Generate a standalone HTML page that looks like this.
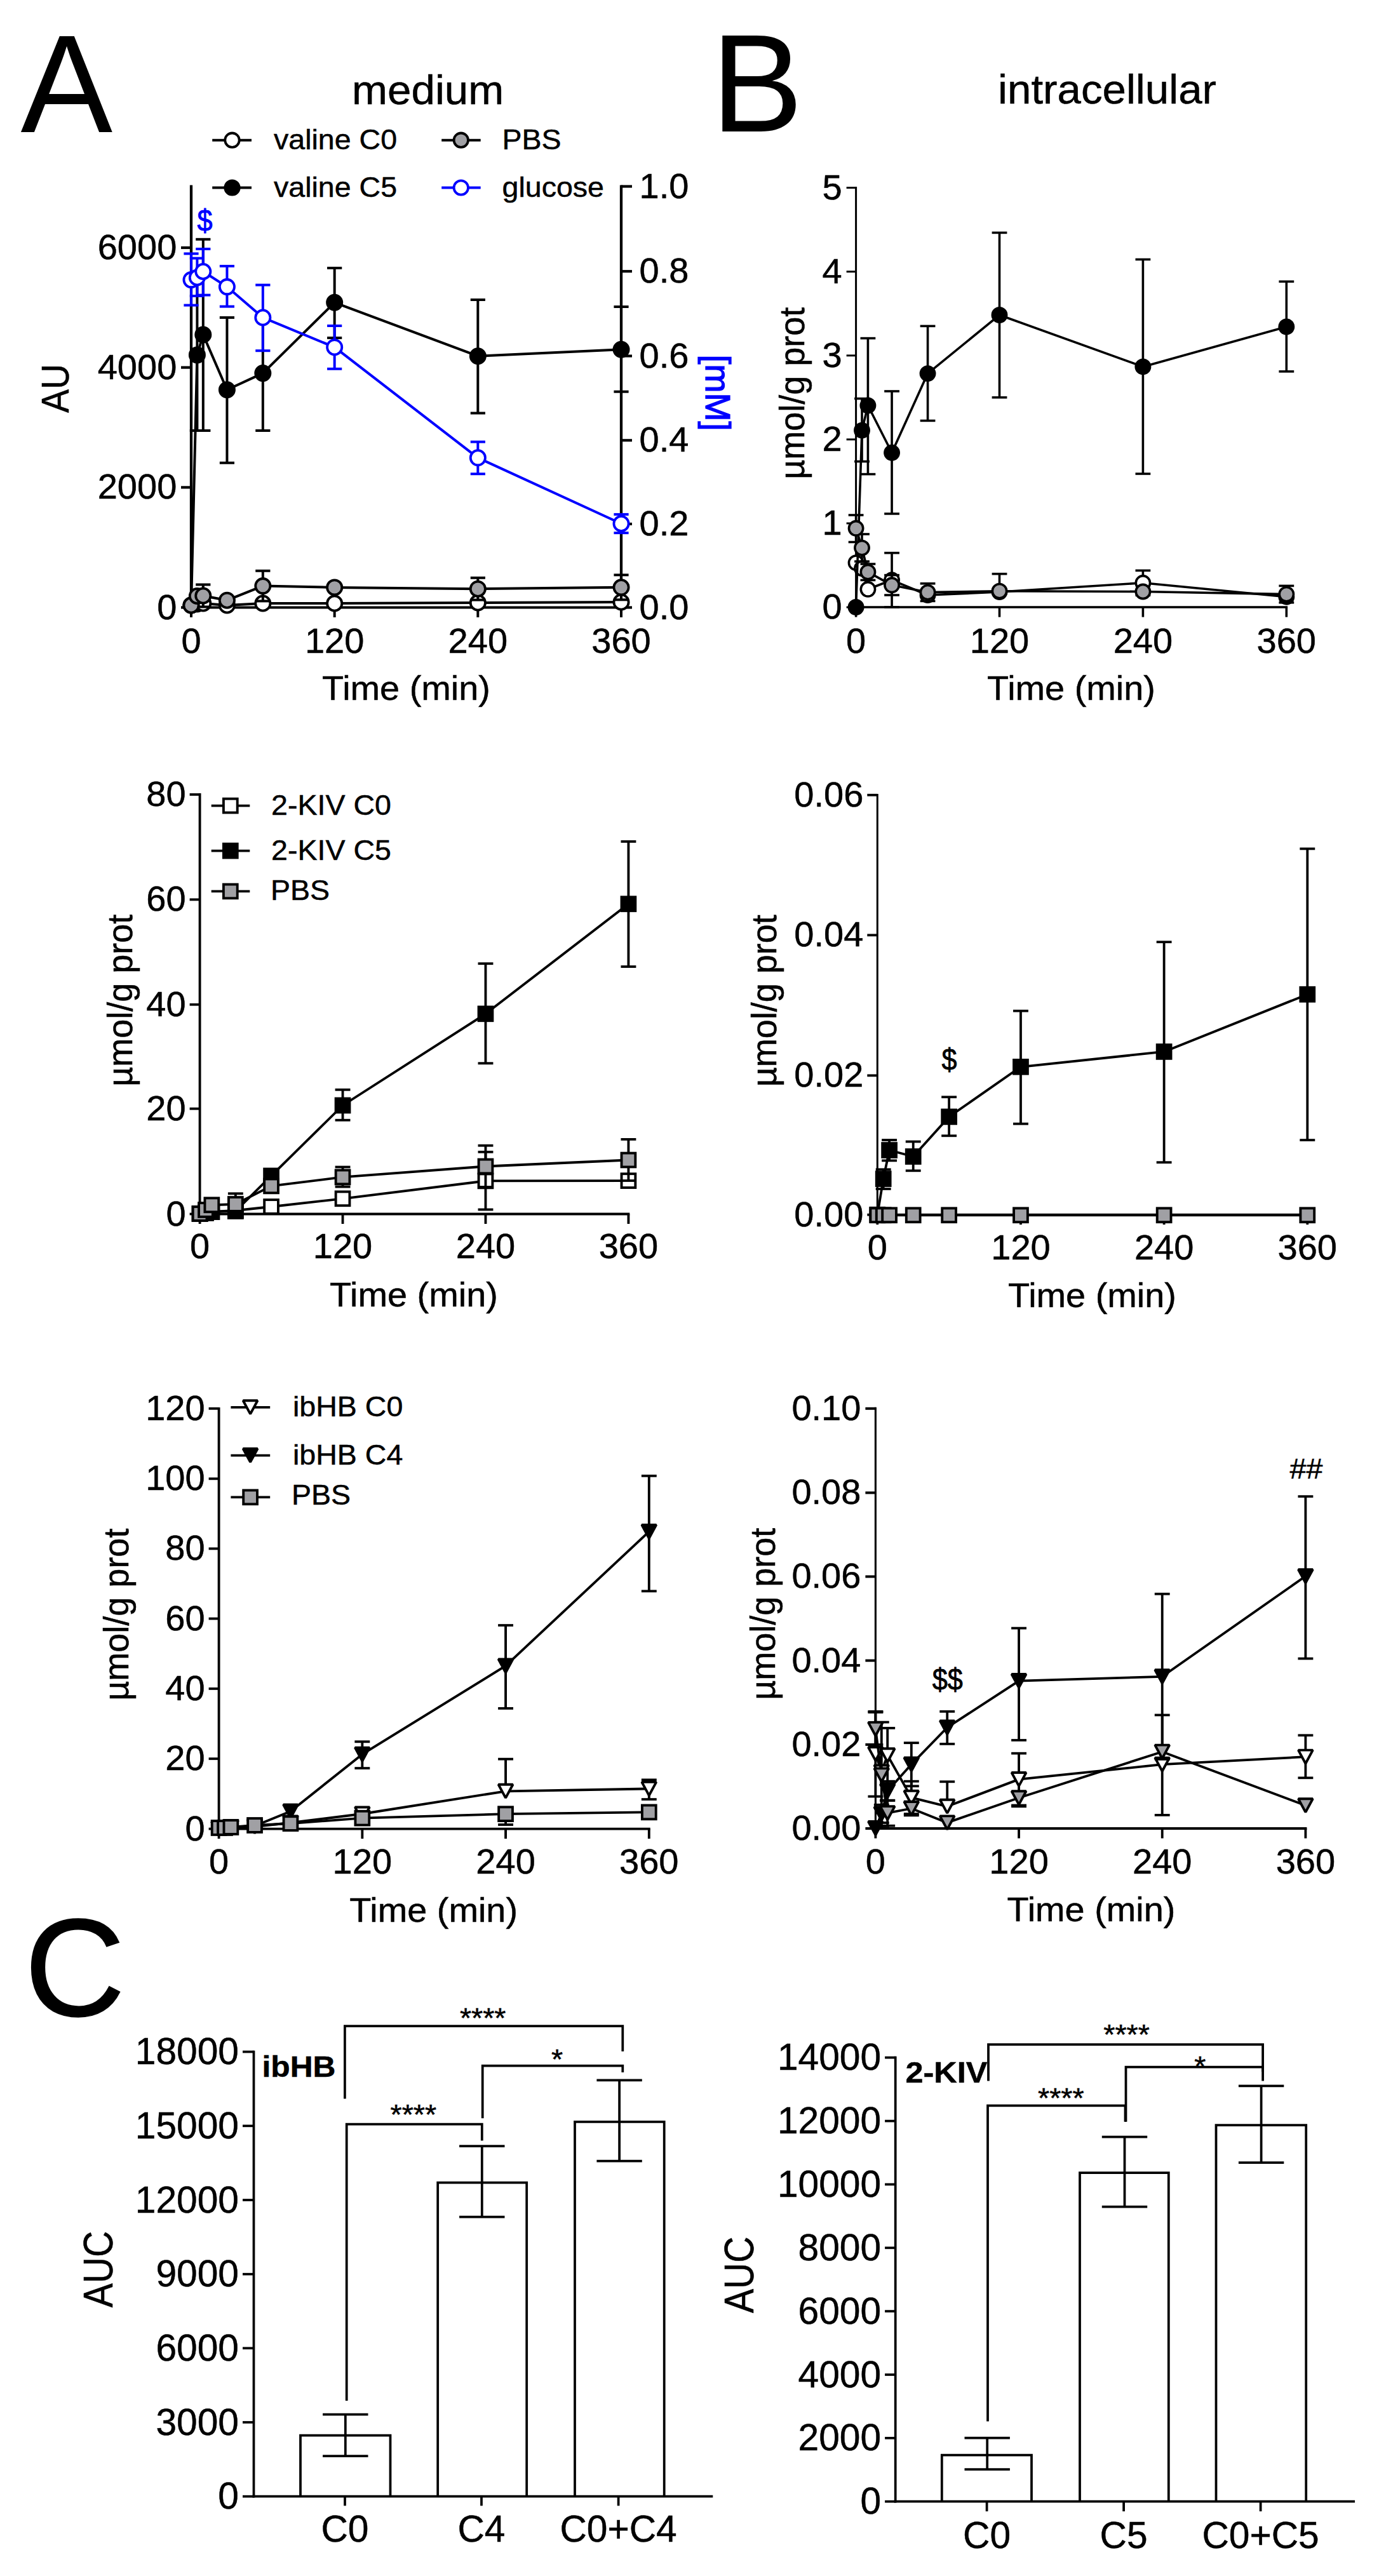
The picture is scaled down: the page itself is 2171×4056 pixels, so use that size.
<!DOCTYPE html>
<html lang="en"><head><meta charset="utf-8"><title>Figure</title>
<style>
html,body{margin:0;padding:0;background:#fff}
svg{display:block}
text{font-family:"Liberation Sans", sans-serif}
</style></head><body>
<svg width="2171" height="4056" viewBox="0 0 2171 4056">
<rect width="2171" height="4056" fill="#fff"/>
<text transform="translate(32.4 207.7) scale(0.988 1)" font-size="219.5" text-anchor="start" fill="#000" stroke="#000" stroke-width="0">A</text>
<text transform="translate(1119.5 207) scale(0.988 1)" font-size="219.5" text-anchor="start" fill="#000" stroke="#000" stroke-width="0">B</text>
<text transform="translate(38.5 3173.7) scale(1 1)" font-size="219.5" text-anchor="start" fill="#000" stroke="#000" stroke-width="1.5">C</text>
<text transform="translate(673.7 163.8) scale(1.035 1)" font-size="65" text-anchor="middle" fill="#000" stroke="#000" stroke-width="0.5">medium</text>
<text transform="translate(1743 163.4) scale(1.035 1)" font-size="65" text-anchor="middle" fill="#000" stroke="#000" stroke-width="0.5">intracellular</text>
<path d="M301 291.4L301 958.6" stroke="#000" stroke-width="4.3" fill="none"/>
<path d="M285 390L301 390" stroke="#000" stroke-width="4.2" fill="none"/>
<text transform="translate(278.3 408) scale(1 1)" font-size="56" text-anchor="end" fill="#000" stroke="#000" stroke-width="0.5">6000</text>
<path d="M285 578.6L301 578.6" stroke="#000" stroke-width="4.2" fill="none"/>
<text transform="translate(278.3 596.6) scale(1 1)" font-size="56" text-anchor="end" fill="#000" stroke="#000" stroke-width="0.5">4000</text>
<path d="M285 767.4L301 767.4" stroke="#000" stroke-width="4.2" fill="none"/>
<text transform="translate(278.3 785.4) scale(1 1)" font-size="56" text-anchor="end" fill="#000" stroke="#000" stroke-width="0.5">2000</text>
<path d="M285 956.5L301 956.5" stroke="#000" stroke-width="4.2" fill="none"/>
<text transform="translate(278.3 974.5) scale(1 1)" font-size="56" text-anchor="end" fill="#000" stroke="#000" stroke-width="0.5">0</text>
<path d="M978 291.4L978 958.6" stroke="#000" stroke-width="4.3" fill="none"/>
<path d="M978 293.5L995 293.5" stroke="#000" stroke-width="4.2" fill="none"/>
<text transform="translate(1006.5 311.5) scale(1 1)" font-size="56" text-anchor="start" fill="#000" stroke="#000" stroke-width="0.5">1.0</text>
<path d="M978 427.2L995 427.2" stroke="#000" stroke-width="4.2" fill="none"/>
<text transform="translate(1006.5 445.2) scale(1 1)" font-size="56" text-anchor="start" fill="#000" stroke="#000" stroke-width="0.5">0.8</text>
<path d="M978 560.5L995 560.5" stroke="#000" stroke-width="4.2" fill="none"/>
<text transform="translate(1006.5 578.5) scale(1 1)" font-size="56" text-anchor="start" fill="#000" stroke="#000" stroke-width="0.5">0.6</text>
<path d="M978 693.3L995 693.3" stroke="#000" stroke-width="4.2" fill="none"/>
<text transform="translate(1006.5 711.3) scale(1 1)" font-size="56" text-anchor="start" fill="#000" stroke="#000" stroke-width="0.5">0.4</text>
<path d="M978 825L995 825" stroke="#000" stroke-width="4.2" fill="none"/>
<text transform="translate(1006.5 843) scale(1 1)" font-size="56" text-anchor="start" fill="#000" stroke="#000" stroke-width="0.5">0.2</text>
<path d="M978 956.5L995 956.5" stroke="#000" stroke-width="4.2" fill="none"/>
<text transform="translate(1006.5 974.5) scale(1 1)" font-size="56" text-anchor="start" fill="#000" stroke="#000" stroke-width="0.5">0.0</text>
<path d="M298.85 956.5L980 956.5" stroke="#000" stroke-width="4.2" fill="none"/>
<path d="M301 956.5L301 972" stroke="#000" stroke-width="4" fill="none"/>
<text transform="translate(301 1028.4) scale(1 1)" font-size="56" text-anchor="middle" fill="#000" stroke="#000" stroke-width="0.5">0</text>
<path d="M526.67 956.5L526.67 972" stroke="#000" stroke-width="4" fill="none"/>
<text transform="translate(526.67 1028.4) scale(1 1)" font-size="56" text-anchor="middle" fill="#000" stroke="#000" stroke-width="0.5">120</text>
<path d="M752.34 956.5L752.34 972" stroke="#000" stroke-width="4" fill="none"/>
<text transform="translate(752.34 1028.4) scale(1 1)" font-size="56" text-anchor="middle" fill="#000" stroke="#000" stroke-width="0.5">240</text>
<path d="M978.02 956.5L978.02 972" stroke="#000" stroke-width="4" fill="none"/>
<text transform="translate(978.02 1028.4) scale(1 1)" font-size="56" text-anchor="middle" fill="#000" stroke="#000" stroke-width="0.5">360</text>
<text transform="translate(639.5 1101.6) scale(1.035 1)" font-size="54" text-anchor="middle" fill="#000" stroke="#000" stroke-width="0.5">Time (min)</text>
<text transform="translate(107.9 611.5) scale(1.088 1) rotate(-90)" font-size="55.4" text-anchor="middle" fill="#000" stroke="#000" stroke-width="0.5">AU</text>
<text transform="translate(1111 618.5) scale(1.035 1) rotate(90)" font-size="54" text-anchor="middle" fill="#0000ff" stroke="#0000ff" stroke-width="1.3">[mM]</text>
<g>
<path d="M413.84 946L413.84 954" stroke="#000" stroke-width="4" fill="none"/>
<path d="M402.24 946L425.44 946" stroke="#000" stroke-width="4" fill="none"/>
<path d="M402.24 954L425.44 954" stroke="#000" stroke-width="4" fill="none"/>
<path d="M752.34 946L752.34 953" stroke="#000" stroke-width="4" fill="none"/>
<path d="M740.74 946L763.94 946" stroke="#000" stroke-width="4" fill="none"/>
<path d="M740.74 953L763.94 953" stroke="#000" stroke-width="4" fill="none"/>
<path d="M978.02 945L978.02 952" stroke="#000" stroke-width="4" fill="none"/>
<path d="M966.42 945L989.62 945" stroke="#000" stroke-width="4" fill="none"/>
<path d="M966.42 952L989.62 952" stroke="#000" stroke-width="4" fill="none"/>
<path d="M301 953L310.4 951L319.81 950L357.42 953L413.84 950L526.67 950L752.34 949L978.02 948" stroke="#000" stroke-width="4" fill="none" stroke-linejoin="round"/>
<circle cx="301" cy="953" r="11.6" fill="#fff" stroke="#000" stroke-width="3.8"/>
<circle cx="310.4" cy="951" r="11.6" fill="#fff" stroke="#000" stroke-width="3.8"/>
<circle cx="319.81" cy="950" r="11.6" fill="#fff" stroke="#000" stroke-width="3.8"/>
<circle cx="357.42" cy="953" r="11.6" fill="#fff" stroke="#000" stroke-width="3.8"/>
<circle cx="413.84" cy="950" r="11.6" fill="#fff" stroke="#000" stroke-width="3.8"/>
<circle cx="526.67" cy="950" r="11.6" fill="#fff" stroke="#000" stroke-width="3.8"/>
<circle cx="752.34" cy="949" r="11.6" fill="#fff" stroke="#000" stroke-width="3.8"/>
<circle cx="978.02" cy="948" r="11.6" fill="#fff" stroke="#000" stroke-width="3.8"/>
</g>
<g>
<path d="M310.4 440L310.4 678" stroke="#000" stroke-width="4" fill="none"/>
<path d="M298.8 440L322 440" stroke="#000" stroke-width="4" fill="none"/>
<path d="M298.8 678L322 678" stroke="#000" stroke-width="4" fill="none"/>
<path d="M319.81 376.8L319.81 678" stroke="#000" stroke-width="4" fill="none"/>
<path d="M308.21 376.8L331.41 376.8" stroke="#000" stroke-width="4" fill="none"/>
<path d="M308.21 678L331.41 678" stroke="#000" stroke-width="4" fill="none"/>
<path d="M357.42 500L357.42 728.8" stroke="#000" stroke-width="4" fill="none"/>
<path d="M345.82 500L369.02 500" stroke="#000" stroke-width="4" fill="none"/>
<path d="M345.82 728.8L369.02 728.8" stroke="#000" stroke-width="4" fill="none"/>
<path d="M413.84 497L413.84 678" stroke="#000" stroke-width="4" fill="none"/>
<path d="M402.24 497L425.44 497" stroke="#000" stroke-width="4" fill="none"/>
<path d="M402.24 678L425.44 678" stroke="#000" stroke-width="4" fill="none"/>
<path d="M526.67 422L526.67 532" stroke="#000" stroke-width="4" fill="none"/>
<path d="M515.07 422L538.27 422" stroke="#000" stroke-width="4" fill="none"/>
<path d="M515.07 532L538.27 532" stroke="#000" stroke-width="4" fill="none"/>
<path d="M752.34 472L752.34 650.5" stroke="#000" stroke-width="4" fill="none"/>
<path d="M740.74 472L763.94 472" stroke="#000" stroke-width="4" fill="none"/>
<path d="M740.74 650.5L763.94 650.5" stroke="#000" stroke-width="4" fill="none"/>
<path d="M978.02 483L978.02 616.7" stroke="#000" stroke-width="4" fill="none"/>
<path d="M966.42 483L989.62 483" stroke="#000" stroke-width="4" fill="none"/>
<path d="M966.42 616.7L989.62 616.7" stroke="#000" stroke-width="4" fill="none"/>
<path d="M301 953L310.4 558.9L319.81 527L357.42 613.7L413.84 587.6L526.67 476.3L752.34 560.7L978.02 550.3" stroke="#000" stroke-width="4" fill="none" stroke-linejoin="round"/>
<circle cx="301" cy="953" r="11.6" fill="#000" stroke="#000" stroke-width="3.8"/>
<circle cx="310.4" cy="558.9" r="11.6" fill="#000" stroke="#000" stroke-width="3.8"/>
<circle cx="319.81" cy="527" r="11.6" fill="#000" stroke="#000" stroke-width="3.8"/>
<circle cx="357.42" cy="613.7" r="11.6" fill="#000" stroke="#000" stroke-width="3.8"/>
<circle cx="413.84" cy="587.6" r="11.6" fill="#000" stroke="#000" stroke-width="3.8"/>
<circle cx="526.67" cy="476.3" r="11.6" fill="#000" stroke="#000" stroke-width="3.8"/>
<circle cx="752.34" cy="560.7" r="11.6" fill="#000" stroke="#000" stroke-width="3.8"/>
<circle cx="978.02" cy="550.3" r="11.6" fill="#000" stroke="#000" stroke-width="3.8"/>
</g>
<g>
<path d="M319.81 920.5L319.81 955.5" stroke="#000" stroke-width="4" fill="none"/>
<path d="M308.21 920.5L331.41 920.5" stroke="#000" stroke-width="4" fill="none"/>
<path d="M308.21 955.5L331.41 955.5" stroke="#000" stroke-width="4" fill="none"/>
<path d="M413.84 898.8L413.84 946.4" stroke="#000" stroke-width="4" fill="none"/>
<path d="M402.24 898.8L425.44 898.8" stroke="#000" stroke-width="4" fill="none"/>
<path d="M402.24 946.4L425.44 946.4" stroke="#000" stroke-width="4" fill="none"/>
<path d="M752.34 909.8L752.34 944.6" stroke="#000" stroke-width="4" fill="none"/>
<path d="M740.74 909.8L763.94 909.8" stroke="#000" stroke-width="4" fill="none"/>
<path d="M740.74 944.6L763.94 944.6" stroke="#000" stroke-width="4" fill="none"/>
<path d="M978.02 905.3L978.02 944.3" stroke="#000" stroke-width="4" fill="none"/>
<path d="M966.42 905.3L989.62 905.3" stroke="#000" stroke-width="4" fill="none"/>
<path d="M966.42 944.3L989.62 944.3" stroke="#000" stroke-width="4" fill="none"/>
<path d="M301 953L310.4 938.5L319.81 938L357.42 945.2L413.84 922.6L526.67 924.9L752.34 927.2L978.02 924.8" stroke="#000" stroke-width="4" fill="none" stroke-linejoin="round"/>
<circle cx="301" cy="953" r="11.6" fill="#a0a0a4" stroke="#000" stroke-width="3.8"/>
<circle cx="310.4" cy="938.5" r="11.6" fill="#a0a0a4" stroke="#000" stroke-width="3.8"/>
<circle cx="319.81" cy="938" r="11.6" fill="#a0a0a4" stroke="#000" stroke-width="3.8"/>
<circle cx="357.42" cy="945.2" r="11.6" fill="#a0a0a4" stroke="#000" stroke-width="3.8"/>
<circle cx="413.84" cy="922.6" r="11.6" fill="#a0a0a4" stroke="#000" stroke-width="3.8"/>
<circle cx="526.67" cy="924.9" r="11.6" fill="#a0a0a4" stroke="#000" stroke-width="3.8"/>
<circle cx="752.34" cy="927.2" r="11.6" fill="#a0a0a4" stroke="#000" stroke-width="3.8"/>
<circle cx="978.02" cy="924.8" r="11.6" fill="#a0a0a4" stroke="#000" stroke-width="3.8"/>
</g>
<g>
<path d="M301 399.4L301 480.6" stroke="#0000ff" stroke-width="4" fill="none"/>
<path d="M289.4 399.4L312.6 399.4" stroke="#0000ff" stroke-width="4" fill="none"/>
<path d="M289.4 480.6L312.6 480.6" stroke="#0000ff" stroke-width="4" fill="none"/>
<path d="M310.4 406.6L310.4 466" stroke="#0000ff" stroke-width="4" fill="none"/>
<path d="M298.8 406.6L322 406.6" stroke="#0000ff" stroke-width="4" fill="none"/>
<path d="M298.8 466L322 466" stroke="#0000ff" stroke-width="4" fill="none"/>
<path d="M319.81 392L319.81 464.6" stroke="#0000ff" stroke-width="4" fill="none"/>
<path d="M308.21 392L331.41 392" stroke="#0000ff" stroke-width="4" fill="none"/>
<path d="M308.21 464.6L331.41 464.6" stroke="#0000ff" stroke-width="4" fill="none"/>
<path d="M357.42 419L357.42 482.6" stroke="#0000ff" stroke-width="4" fill="none"/>
<path d="M345.82 419L369.02 419" stroke="#0000ff" stroke-width="4" fill="none"/>
<path d="M345.82 482.6L369.02 482.6" stroke="#0000ff" stroke-width="4" fill="none"/>
<path d="M413.84 448.7L413.84 552.2" stroke="#0000ff" stroke-width="4" fill="none"/>
<path d="M402.24 448.7L425.44 448.7" stroke="#0000ff" stroke-width="4" fill="none"/>
<path d="M402.24 552.2L425.44 552.2" stroke="#0000ff" stroke-width="4" fill="none"/>
<path d="M526.67 513L526.67 580.8" stroke="#0000ff" stroke-width="4" fill="none"/>
<path d="M515.07 513L538.27 513" stroke="#0000ff" stroke-width="4" fill="none"/>
<path d="M515.07 580.8L538.27 580.8" stroke="#0000ff" stroke-width="4" fill="none"/>
<path d="M752.34 695.7L752.34 746.2" stroke="#0000ff" stroke-width="4" fill="none"/>
<path d="M740.74 695.7L763.94 695.7" stroke="#0000ff" stroke-width="4" fill="none"/>
<path d="M740.74 746.2L763.94 746.2" stroke="#0000ff" stroke-width="4" fill="none"/>
<path d="M978.02 809.9L978.02 839.1" stroke="#0000ff" stroke-width="4" fill="none"/>
<path d="M966.42 809.9L989.62 809.9" stroke="#0000ff" stroke-width="4" fill="none"/>
<path d="M966.42 839.1L989.62 839.1" stroke="#0000ff" stroke-width="4" fill="none"/>
<path d="M301 440.6L310.4 437L319.81 427.5L357.42 451.6L413.84 500L526.67 546.7L752.34 720.8L978.02 824.5" stroke="#0000ff" stroke-width="4" fill="none" stroke-linejoin="round"/>
<circle cx="301" cy="440.6" r="11.6" fill="#fff" stroke="#0000ff" stroke-width="3.8"/>
<circle cx="310.4" cy="437" r="11.6" fill="#fff" stroke="#0000ff" stroke-width="3.8"/>
<circle cx="319.81" cy="427.5" r="11.6" fill="#fff" stroke="#0000ff" stroke-width="3.8"/>
<circle cx="357.42" cy="451.6" r="11.6" fill="#fff" stroke="#0000ff" stroke-width="3.8"/>
<circle cx="413.84" cy="500" r="11.6" fill="#fff" stroke="#0000ff" stroke-width="3.8"/>
<circle cx="526.67" cy="546.7" r="11.6" fill="#fff" stroke="#0000ff" stroke-width="3.8"/>
<circle cx="752.34" cy="720.8" r="11.6" fill="#fff" stroke="#0000ff" stroke-width="3.8"/>
<circle cx="978.02" cy="824.5" r="11.6" fill="#fff" stroke="#0000ff" stroke-width="3.8"/>
</g>
<text transform="translate(322.5 363.9) scale(0.89 1)" font-size="48.5" text-anchor="middle" fill="#0000ff" stroke="#0000ff" stroke-width="1">$</text>
<path d="M334.2 220.7L396 220.7" stroke="#000" stroke-width="4" fill="none"/>
<circle cx="365.5" cy="220.7" r="11.2" fill="#fff" stroke="#000" stroke-width="3.8"/>
<text transform="translate(431 235.3) scale(1.035 1)" font-size="45" text-anchor="start" fill="#000" stroke="#000" stroke-width="0.5">valine C0</text>
<path d="M334.2 295.5L396 295.5" stroke="#000" stroke-width="4" fill="none"/>
<circle cx="365.5" cy="295.5" r="11.2" fill="#000" stroke="#000" stroke-width="3.8"/>
<text transform="translate(431 310) scale(1.035 1)" font-size="45" text-anchor="start" fill="#000" stroke="#000" stroke-width="0.5">valine C5</text>
<path d="M695.2 220.7L756.7 220.7" stroke="#000" stroke-width="4" fill="none"/>
<circle cx="725.8" cy="220.7" r="11.2" fill="#a0a0a4" stroke="#000" stroke-width="3.8"/>
<text transform="translate(790.5 235.3) scale(1.035 1)" font-size="45" text-anchor="start" fill="#000" stroke="#000" stroke-width="0.5">PBS</text>
<path d="M695.2 295.5L756.7 295.5" stroke="#0000ff" stroke-width="4" fill="none"/>
<circle cx="725.8" cy="295.5" r="11.2" fill="#fff" stroke="#0000ff" stroke-width="3.8"/>
<text transform="translate(790.5 310) scale(1.035 1)" font-size="45" text-anchor="start" fill="#000" stroke="#000" stroke-width="0.5">glucose</text>
<path d="M1347.6 294.1L1347.6 957.85" stroke="#000" stroke-width="3" fill="none"/>
<path d="M1332.6 295.6L1347.6 295.6" stroke="#000" stroke-width="3" fill="none"/>
<text transform="translate(1325.6 313.6) scale(1 1)" font-size="56" text-anchor="end" fill="#000" stroke="#000" stroke-width="0.5">5</text>
<path d="M1332.6 427.7L1347.6 427.7" stroke="#000" stroke-width="3" fill="none"/>
<text transform="translate(1325.6 445.7) scale(1 1)" font-size="56" text-anchor="end" fill="#000" stroke="#000" stroke-width="0.5">4</text>
<path d="M1332.6 559.8L1347.6 559.8" stroke="#000" stroke-width="3" fill="none"/>
<text transform="translate(1325.6 577.8) scale(1 1)" font-size="56" text-anchor="end" fill="#000" stroke="#000" stroke-width="0.5">3</text>
<path d="M1332.6 691.9L1347.6 691.9" stroke="#000" stroke-width="3" fill="none"/>
<text transform="translate(1325.6 709.9) scale(1 1)" font-size="56" text-anchor="end" fill="#000" stroke="#000" stroke-width="0.5">2</text>
<path d="M1332.6 824L1347.6 824" stroke="#000" stroke-width="3" fill="none"/>
<text transform="translate(1325.6 842) scale(1 1)" font-size="56" text-anchor="end" fill="#000" stroke="#000" stroke-width="0.5">1</text>
<path d="M1332.6 956.1L1347.6 956.1" stroke="#000" stroke-width="3" fill="none"/>
<text transform="translate(1325.6 974.1) scale(1 1)" font-size="56" text-anchor="end" fill="#000" stroke="#000" stroke-width="0.5">0</text>
<path d="M1346.1 956.1L2027.1 956.1" stroke="#000" stroke-width="3.5" fill="none"/>
<path d="M1347.6 956.1L1347.6 971.6" stroke="#000" stroke-width="3.6" fill="none"/>
<text transform="translate(1347.6 1028.4) scale(1 1)" font-size="56" text-anchor="middle" fill="#000" stroke="#000" stroke-width="0.5">0</text>
<path d="M1573.5 956.1L1573.5 971.6" stroke="#000" stroke-width="3.6" fill="none"/>
<text transform="translate(1573.5 1028.4) scale(1 1)" font-size="56" text-anchor="middle" fill="#000" stroke="#000" stroke-width="0.5">120</text>
<path d="M1799.4 956.1L1799.4 971.6" stroke="#000" stroke-width="3.6" fill="none"/>
<text transform="translate(1799.4 1028.4) scale(1 1)" font-size="56" text-anchor="middle" fill="#000" stroke="#000" stroke-width="0.5">240</text>
<path d="M2025.3 956.1L2025.3 971.6" stroke="#000" stroke-width="3.6" fill="none"/>
<text transform="translate(2025.3 1028.4) scale(1 1)" font-size="56" text-anchor="middle" fill="#000" stroke="#000" stroke-width="0.5">360</text>
<text transform="translate(1686.5 1101.6) scale(1.035 1)" font-size="54" text-anchor="middle" fill="#000" stroke="#000" stroke-width="0.5">Time (min)</text>
<text transform="translate(1265.7 619.3) scale(1.035 1) rotate(-90)" font-size="54" text-anchor="middle" fill="#000" stroke="#000" stroke-width="0.5">µmol/g prot</text>
<g>
<path d="M1404.07 870.6L1404.07 956" stroke="#000" stroke-width="3.6" fill="none"/>
<path d="M1392.17 870.6L1415.97 870.6" stroke="#000" stroke-width="3.6" fill="none"/>
<path d="M1392.17 956L1415.97 956" stroke="#000" stroke-width="3.6" fill="none"/>
<path d="M1799.4 898.3L1799.4 937.3" stroke="#000" stroke-width="3.6" fill="none"/>
<path d="M1787.5 898.3L1811.3 898.3" stroke="#000" stroke-width="3.6" fill="none"/>
<path d="M1787.5 937.3L1811.3 937.3" stroke="#000" stroke-width="3.6" fill="none"/>
<path d="M1347.6 886.2L1357.01 895L1366.42 927.8L1404.07 913.3L1460.55 937L1573.5 932L1799.4 917.8L2025.3 939.7" stroke="#000" stroke-width="3.6" fill="none" stroke-linejoin="round"/>
<circle cx="1347.6" cy="886.2" r="11.15" fill="#fff" stroke="#000" stroke-width="3.6"/>
<circle cx="1357.01" cy="895" r="11.15" fill="#fff" stroke="#000" stroke-width="3.6"/>
<circle cx="1366.42" cy="927.8" r="11.15" fill="#fff" stroke="#000" stroke-width="3.6"/>
<circle cx="1404.07" cy="913.3" r="11.15" fill="#fff" stroke="#000" stroke-width="3.6"/>
<circle cx="1460.55" cy="937" r="11.15" fill="#fff" stroke="#000" stroke-width="3.6"/>
<circle cx="1573.5" cy="932" r="11.15" fill="#fff" stroke="#000" stroke-width="3.6"/>
<circle cx="1799.4" cy="917.8" r="11.15" fill="#fff" stroke="#000" stroke-width="3.6"/>
<circle cx="2025.3" cy="939.7" r="11.15" fill="#fff" stroke="#000" stroke-width="3.6"/>
</g>
<g>
<path d="M1357.01 627.6L1357.01 726.6" stroke="#000" stroke-width="3.6" fill="none"/>
<path d="M1345.11 627.6L1368.91 627.6" stroke="#000" stroke-width="3.6" fill="none"/>
<path d="M1345.11 726.6L1368.91 726.6" stroke="#000" stroke-width="3.6" fill="none"/>
<path d="M1366.42 532.6L1366.42 746.6" stroke="#000" stroke-width="3.6" fill="none"/>
<path d="M1354.52 532.6L1378.33 532.6" stroke="#000" stroke-width="3.6" fill="none"/>
<path d="M1354.52 746.6L1378.33 746.6" stroke="#000" stroke-width="3.6" fill="none"/>
<path d="M1404.07 616L1404.07 808.9" stroke="#000" stroke-width="3.6" fill="none"/>
<path d="M1392.17 616L1415.97 616" stroke="#000" stroke-width="3.6" fill="none"/>
<path d="M1392.17 808.9L1415.97 808.9" stroke="#000" stroke-width="3.6" fill="none"/>
<path d="M1460.55 513.4L1460.55 662.4" stroke="#000" stroke-width="3.6" fill="none"/>
<path d="M1448.65 513.4L1472.45 513.4" stroke="#000" stroke-width="3.6" fill="none"/>
<path d="M1448.65 662.4L1472.45 662.4" stroke="#000" stroke-width="3.6" fill="none"/>
<path d="M1573.5 366.4L1573.5 625.8" stroke="#000" stroke-width="3.6" fill="none"/>
<path d="M1561.6 366.4L1585.4 366.4" stroke="#000" stroke-width="3.6" fill="none"/>
<path d="M1561.6 625.8L1585.4 625.8" stroke="#000" stroke-width="3.6" fill="none"/>
<path d="M1799.4 408.5L1799.4 746" stroke="#000" stroke-width="3.6" fill="none"/>
<path d="M1787.5 408.5L1811.3 408.5" stroke="#000" stroke-width="3.6" fill="none"/>
<path d="M1787.5 746L1811.3 746" stroke="#000" stroke-width="3.6" fill="none"/>
<path d="M2025.3 443.3L2025.3 584.9" stroke="#000" stroke-width="3.6" fill="none"/>
<path d="M2013.4 443.3L2037.2 443.3" stroke="#000" stroke-width="3.6" fill="none"/>
<path d="M2013.4 584.9L2037.2 584.9" stroke="#000" stroke-width="3.6" fill="none"/>
<path d="M1347.6 956L1357.01 677.7L1366.42 638.5L1404.07 712.8L1460.55 588.1L1573.5 496L1799.4 577.4L2025.3 514.5" stroke="#000" stroke-width="3.6" fill="none" stroke-linejoin="round"/>
<circle cx="1347.6" cy="956" r="11.15" fill="#000" stroke="#000" stroke-width="3.6"/>
<circle cx="1357.01" cy="677.7" r="11.15" fill="#000" stroke="#000" stroke-width="3.6"/>
<circle cx="1366.42" cy="638.5" r="11.15" fill="#000" stroke="#000" stroke-width="3.6"/>
<circle cx="1404.07" cy="712.8" r="11.15" fill="#000" stroke="#000" stroke-width="3.6"/>
<circle cx="1460.55" cy="588.1" r="11.15" fill="#000" stroke="#000" stroke-width="3.6"/>
<circle cx="1573.5" cy="496" r="11.15" fill="#000" stroke="#000" stroke-width="3.6"/>
<circle cx="1799.4" cy="577.4" r="11.15" fill="#000" stroke="#000" stroke-width="3.6"/>
<circle cx="2025.3" cy="514.5" r="11.15" fill="#000" stroke="#000" stroke-width="3.6"/>
</g>
<g>
<path d="M1347.6 811L1347.6 853.5" stroke="#000" stroke-width="3.6" fill="none"/>
<path d="M1335.7 811L1359.5 811" stroke="#000" stroke-width="3.6" fill="none"/>
<path d="M1335.7 853.5L1359.5 853.5" stroke="#000" stroke-width="3.6" fill="none"/>
<path d="M1357.01 841L1357.01 884" stroke="#000" stroke-width="3.6" fill="none"/>
<path d="M1345.11 841L1368.91 841" stroke="#000" stroke-width="3.6" fill="none"/>
<path d="M1345.11 884L1368.91 884" stroke="#000" stroke-width="3.6" fill="none"/>
<path d="M1366.42 888L1366.42 913.4" stroke="#000" stroke-width="3.6" fill="none"/>
<path d="M1354.52 888L1378.33 888" stroke="#000" stroke-width="3.6" fill="none"/>
<path d="M1354.52 913.4L1378.33 913.4" stroke="#000" stroke-width="3.6" fill="none"/>
<path d="M1404.07 905.6L1404.07 937" stroke="#000" stroke-width="3.6" fill="none"/>
<path d="M1392.17 905.6L1415.97 905.6" stroke="#000" stroke-width="3.6" fill="none"/>
<path d="M1392.17 937L1415.97 937" stroke="#000" stroke-width="3.6" fill="none"/>
<path d="M1460.55 918.8L1460.55 946.4" stroke="#000" stroke-width="3.6" fill="none"/>
<path d="M1448.65 918.8L1472.45 918.8" stroke="#000" stroke-width="3.6" fill="none"/>
<path d="M1448.65 946.4L1472.45 946.4" stroke="#000" stroke-width="3.6" fill="none"/>
<path d="M1573.5 903.6L1573.5 930.7" stroke="#000" stroke-width="3.6" fill="none"/>
<path d="M1561.6 903.6L1585.4 903.6" stroke="#000" stroke-width="3.6" fill="none"/>
<path d="M2025.3 922.4L2025.3 948.8" stroke="#000" stroke-width="3.6" fill="none"/>
<path d="M2013.4 922.4L2037.2 922.4" stroke="#000" stroke-width="3.6" fill="none"/>
<path d="M2013.4 948.8L2037.2 948.8" stroke="#000" stroke-width="3.6" fill="none"/>
<path d="M1347.6 831.8L1357.01 862.6L1366.42 900.7L1404.07 921.3L1460.55 932.6L1573.5 930.7L1799.4 931.5L2025.3 935.6" stroke="#000" stroke-width="3.6" fill="none" stroke-linejoin="round"/>
<circle cx="1347.6" cy="831.8" r="11.15" fill="#a0a0a4" stroke="#000" stroke-width="3.6"/>
<circle cx="1357.01" cy="862.6" r="11.15" fill="#a0a0a4" stroke="#000" stroke-width="3.6"/>
<circle cx="1366.42" cy="900.7" r="11.15" fill="#a0a0a4" stroke="#000" stroke-width="3.6"/>
<circle cx="1404.07" cy="921.3" r="11.15" fill="#a0a0a4" stroke="#000" stroke-width="3.6"/>
<circle cx="1460.55" cy="932.6" r="11.15" fill="#a0a0a4" stroke="#000" stroke-width="3.6"/>
<circle cx="1573.5" cy="930.7" r="11.15" fill="#a0a0a4" stroke="#000" stroke-width="3.6"/>
<circle cx="1799.4" cy="931.5" r="11.15" fill="#a0a0a4" stroke="#000" stroke-width="3.6"/>
<circle cx="2025.3" cy="935.6" r="11.15" fill="#a0a0a4" stroke="#000" stroke-width="3.6"/>
</g>
<path d="M314.6 1249.08L314.6 1913.42" stroke="#000" stroke-width="3.85" fill="none"/>
<path d="M298.6 1251L314.6 1251" stroke="#000" stroke-width="3.85" fill="none"/>
<text transform="translate(292.6 1269) scale(1 1)" font-size="56" text-anchor="end" fill="#000" stroke="#000" stroke-width="0.5">80</text>
<path d="M298.6 1416.4L314.6 1416.4" stroke="#000" stroke-width="3.85" fill="none"/>
<text transform="translate(292.6 1434.4) scale(1 1)" font-size="56" text-anchor="end" fill="#000" stroke="#000" stroke-width="0.5">60</text>
<path d="M298.6 1581.7L314.6 1581.7" stroke="#000" stroke-width="3.85" fill="none"/>
<text transform="translate(292.6 1599.7) scale(1 1)" font-size="56" text-anchor="end" fill="#000" stroke="#000" stroke-width="0.5">40</text>
<path d="M298.6 1745.7L314.6 1745.7" stroke="#000" stroke-width="3.85" fill="none"/>
<text transform="translate(292.6 1763.7) scale(1 1)" font-size="56" text-anchor="end" fill="#000" stroke="#000" stroke-width="0.5">20</text>
<path d="M298.6 1911.5L314.6 1911.5" stroke="#000" stroke-width="3.85" fill="none"/>
<text transform="translate(292.6 1929.5) scale(1 1)" font-size="56" text-anchor="end" fill="#000" stroke="#000" stroke-width="0.5">0</text>
<path d="M312.68 1911.5L991.32 1911.5" stroke="#000" stroke-width="3.85" fill="none"/>
<path d="M314.6 1911.5L314.6 1927" stroke="#000" stroke-width="3.85" fill="none"/>
<text transform="translate(314.6 1981) scale(1 1)" font-size="56" text-anchor="middle" fill="#000" stroke="#000" stroke-width="0.5">0</text>
<path d="M539.54 1911.5L539.54 1927" stroke="#000" stroke-width="3.85" fill="none"/>
<text transform="translate(539.54 1981) scale(1 1)" font-size="56" text-anchor="middle" fill="#000" stroke="#000" stroke-width="0.5">120</text>
<path d="M764.48 1911.5L764.48 1927" stroke="#000" stroke-width="3.85" fill="none"/>
<text transform="translate(764.48 1981) scale(1 1)" font-size="56" text-anchor="middle" fill="#000" stroke="#000" stroke-width="0.5">240</text>
<path d="M989.42 1911.5L989.42 1927" stroke="#000" stroke-width="3.85" fill="none"/>
<text transform="translate(989.42 1981) scale(1 1)" font-size="56" text-anchor="middle" fill="#000" stroke="#000" stroke-width="0.5">360</text>
<text transform="translate(651.4 2056.8) scale(1.035 1)" font-size="54" text-anchor="middle" fill="#000" stroke="#000" stroke-width="0.5">Time (min)</text>
<text transform="translate(208.3 1575.3) scale(1.035 1) rotate(-90)" font-size="54" text-anchor="middle" fill="#000" stroke="#000" stroke-width="0.5">µmol/g prot</text>
<g>
<path d="M764.48 1813.8L764.48 1904.5" stroke="#000" stroke-width="3.85" fill="none"/>
<path d="M752.53 1813.8L776.43 1813.8" stroke="#000" stroke-width="3.85" fill="none"/>
<path d="M752.53 1904.5L776.43 1904.5" stroke="#000" stroke-width="3.85" fill="none"/>
<path d="M989.42 1850L989.42 1868" stroke="#000" stroke-width="3.85" fill="none"/>
<path d="M977.47 1850L1001.37 1850" stroke="#000" stroke-width="3.85" fill="none"/>
<path d="M977.47 1868L1001.37 1868" stroke="#000" stroke-width="3.85" fill="none"/>
<path d="M314.6 1911L323.97 1909L333.35 1908L370.84 1906L427.07 1900L539.54 1887.3L764.48 1859.4L989.42 1859.1" stroke="#000" stroke-width="3.85" fill="none" stroke-linejoin="round"/>
<rect x="303.7" y="1900.1" width="21.8" height="21.8" fill="#fff" stroke="#000" stroke-width="3.9"/>
<rect x="313.07" y="1898.1" width="21.8" height="21.8" fill="#fff" stroke="#000" stroke-width="3.9"/>
<rect x="322.45" y="1897.1" width="21.8" height="21.8" fill="#fff" stroke="#000" stroke-width="3.9"/>
<rect x="359.94" y="1895.1" width="21.8" height="21.8" fill="#fff" stroke="#000" stroke-width="3.9"/>
<rect x="416.17" y="1889.1" width="21.8" height="21.8" fill="#fff" stroke="#000" stroke-width="3.9"/>
<rect x="528.64" y="1876.4" width="21.8" height="21.8" fill="#fff" stroke="#000" stroke-width="3.9"/>
<rect x="753.58" y="1848.5" width="21.8" height="21.8" fill="#fff" stroke="#000" stroke-width="3.9"/>
<rect x="978.52" y="1848.2" width="21.8" height="21.8" fill="#fff" stroke="#000" stroke-width="3.9"/>
</g>
<g>
<path d="M539.54 1715.8L539.54 1763.7" stroke="#000" stroke-width="3.85" fill="none"/>
<path d="M527.59 1715.8L551.49 1715.8" stroke="#000" stroke-width="3.85" fill="none"/>
<path d="M527.59 1763.7L551.49 1763.7" stroke="#000" stroke-width="3.85" fill="none"/>
<path d="M764.48 1517.2L764.48 1674.2" stroke="#000" stroke-width="3.85" fill="none"/>
<path d="M752.53 1517.2L776.43 1517.2" stroke="#000" stroke-width="3.85" fill="none"/>
<path d="M752.53 1674.2L776.43 1674.2" stroke="#000" stroke-width="3.85" fill="none"/>
<path d="M989.42 1325L989.42 1522" stroke="#000" stroke-width="3.85" fill="none"/>
<path d="M977.47 1325L1001.37 1325" stroke="#000" stroke-width="3.85" fill="none"/>
<path d="M977.47 1522L1001.37 1522" stroke="#000" stroke-width="3.85" fill="none"/>
<path d="M314.6 1911L323.97 1910L333.35 1908L370.84 1907L427.07 1851.4L539.54 1740.5L764.48 1596.3L989.42 1423.3" stroke="#000" stroke-width="3.85" fill="none" stroke-linejoin="round"/>
<rect x="303.7" y="1900.1" width="21.8" height="21.8" fill="#000" stroke="#000" stroke-width="3.9"/>
<rect x="313.07" y="1899.1" width="21.8" height="21.8" fill="#000" stroke="#000" stroke-width="3.9"/>
<rect x="322.45" y="1897.1" width="21.8" height="21.8" fill="#000" stroke="#000" stroke-width="3.9"/>
<rect x="359.94" y="1896.1" width="21.8" height="21.8" fill="#000" stroke="#000" stroke-width="3.9"/>
<rect x="416.17" y="1840.5" width="21.8" height="21.8" fill="#000" stroke="#000" stroke-width="3.9"/>
<rect x="528.64" y="1729.6" width="21.8" height="21.8" fill="#000" stroke="#000" stroke-width="3.9"/>
<rect x="753.58" y="1585.4" width="21.8" height="21.8" fill="#000" stroke="#000" stroke-width="3.9"/>
<rect x="978.52" y="1412.4" width="21.8" height="21.8" fill="#000" stroke="#000" stroke-width="3.9"/>
</g>
<g>
<path d="M370.84 1879.3L370.84 1912" stroke="#000" stroke-width="3.85" fill="none"/>
<path d="M358.89 1879.3L382.79 1879.3" stroke="#000" stroke-width="3.85" fill="none"/>
<path d="M358.89 1912L382.79 1912" stroke="#000" stroke-width="3.85" fill="none"/>
<path d="M539.54 1837.5L539.54 1868.6" stroke="#000" stroke-width="3.85" fill="none"/>
<path d="M527.59 1837.5L551.49 1837.5" stroke="#000" stroke-width="3.85" fill="none"/>
<path d="M527.59 1868.6L551.49 1868.6" stroke="#000" stroke-width="3.85" fill="none"/>
<path d="M764.48 1803.7L764.48 1869" stroke="#000" stroke-width="3.85" fill="none"/>
<path d="M752.53 1803.7L776.43 1803.7" stroke="#000" stroke-width="3.85" fill="none"/>
<path d="M752.53 1869L776.43 1869" stroke="#000" stroke-width="3.85" fill="none"/>
<path d="M989.42 1793.9L989.42 1859" stroke="#000" stroke-width="3.85" fill="none"/>
<path d="M977.47 1793.9L1001.37 1793.9" stroke="#000" stroke-width="3.85" fill="none"/>
<path d="M977.47 1859L1001.37 1859" stroke="#000" stroke-width="3.85" fill="none"/>
<path d="M314.6 1911L323.97 1905L333.35 1897.3L370.84 1896L427.07 1867.4L539.54 1853.4L764.48 1836.5L989.42 1826.5" stroke="#000" stroke-width="3.85" fill="none" stroke-linejoin="round"/>
<rect x="303.7" y="1900.1" width="21.8" height="21.8" fill="#a0a0a4" stroke="#000" stroke-width="3.9"/>
<rect x="313.07" y="1894.1" width="21.8" height="21.8" fill="#a0a0a4" stroke="#000" stroke-width="3.9"/>
<rect x="322.45" y="1886.4" width="21.8" height="21.8" fill="#a0a0a4" stroke="#000" stroke-width="3.9"/>
<rect x="359.94" y="1885.1" width="21.8" height="21.8" fill="#a0a0a4" stroke="#000" stroke-width="3.9"/>
<rect x="416.17" y="1856.5" width="21.8" height="21.8" fill="#a0a0a4" stroke="#000" stroke-width="3.9"/>
<rect x="528.64" y="1842.5" width="21.8" height="21.8" fill="#a0a0a4" stroke="#000" stroke-width="3.9"/>
<rect x="753.58" y="1825.6" width="21.8" height="21.8" fill="#a0a0a4" stroke="#000" stroke-width="3.9"/>
<rect x="978.52" y="1815.6" width="21.8" height="21.8" fill="#a0a0a4" stroke="#000" stroke-width="3.9"/>
</g>
<path d="M332.7 1268.6L393.3 1268.6" stroke="#000" stroke-width="3.85" fill="none"/>
<rect x="351.9" y="1257.7" width="21.8" height="21.8" fill="#fff" stroke="#000" stroke-width="3.9"/>
<text transform="translate(427 1283) scale(1.035 1)" font-size="45" text-anchor="start" fill="#000" stroke="#000" stroke-width="0.5">2-KIV C0</text>
<path d="M332.7 1339.6L393.3 1339.6" stroke="#000" stroke-width="3.85" fill="none"/>
<rect x="351.9" y="1328.7" width="21.8" height="21.8" fill="#000" stroke="#000" stroke-width="3.9"/>
<text transform="translate(427 1354.3) scale(1.035 1)" font-size="45" text-anchor="start" fill="#000" stroke="#000" stroke-width="0.5">2-KIV C5</text>
<path d="M332.7 1403.4L393.3 1403.4" stroke="#000" stroke-width="3.85" fill="none"/>
<rect x="351.9" y="1392.5" width="21.8" height="21.8" fill="#a0a0a4" stroke="#000" stroke-width="3.9"/>
<text transform="translate(426 1417.4) scale(1.035 1)" font-size="45" text-anchor="start" fill="#000" stroke="#000" stroke-width="0.5">PBS</text>
<path d="M1381.3 1249.88L1381.3 1914.6" stroke="#000" stroke-width="3" fill="none"/>
<path d="M1365.3 1251.8L1381.3 1251.8" stroke="#000" stroke-width="3.85" fill="none"/>
<text transform="translate(1359.3 1269.8) scale(1 1)" font-size="56" text-anchor="end" fill="#000" stroke="#000" stroke-width="0.5">0.06</text>
<path d="M1365.3 1472.4L1381.3 1472.4" stroke="#000" stroke-width="3.85" fill="none"/>
<text transform="translate(1359.3 1490.4) scale(1 1)" font-size="56" text-anchor="end" fill="#000" stroke="#000" stroke-width="0.5">0.04</text>
<path d="M1365.3 1693.4L1381.3 1693.4" stroke="#000" stroke-width="3.85" fill="none"/>
<text transform="translate(1359.3 1711.4) scale(1 1)" font-size="56" text-anchor="end" fill="#000" stroke="#000" stroke-width="0.5">0.02</text>
<path d="M1365.3 1912.7L1381.3 1912.7" stroke="#000" stroke-width="3.85" fill="none"/>
<text transform="translate(1359.3 1930.7) scale(1 1)" font-size="56" text-anchor="end" fill="#000" stroke="#000" stroke-width="0.5">0.00</text>
<path d="M1379.8 1912.7L2060.2 1912.7" stroke="#000" stroke-width="3.8" fill="none"/>
<path d="M1381.3 1912.7L1381.3 1928.2" stroke="#000" stroke-width="3.8" fill="none"/>
<text transform="translate(1381.3 1983) scale(1 1)" font-size="56" text-anchor="middle" fill="#000" stroke="#000" stroke-width="0.5">0</text>
<path d="M1606.96 1912.7L1606.96 1928.2" stroke="#000" stroke-width="3.8" fill="none"/>
<text transform="translate(1606.96 1983) scale(1 1)" font-size="56" text-anchor="middle" fill="#000" stroke="#000" stroke-width="0.5">120</text>
<path d="M1832.62 1912.7L1832.62 1928.2" stroke="#000" stroke-width="3.8" fill="none"/>
<text transform="translate(1832.62 1983) scale(1 1)" font-size="56" text-anchor="middle" fill="#000" stroke="#000" stroke-width="0.5">240</text>
<path d="M2058.28 1912.7L2058.28 1928.2" stroke="#000" stroke-width="3.8" fill="none"/>
<text transform="translate(2058.28 1983) scale(1 1)" font-size="56" text-anchor="middle" fill="#000" stroke="#000" stroke-width="0.5">360</text>
<text transform="translate(1719.5 2057.5) scale(1.035 1)" font-size="54" text-anchor="middle" fill="#000" stroke="#000" stroke-width="0.5">Time (min)</text>
<text transform="translate(1221.8 1575.8) scale(1.035 1) rotate(-90)" font-size="54" text-anchor="middle" fill="#000" stroke="#000" stroke-width="0.5">µmol/g prot</text>
<g>
<path d="M1390.7 1841.3L1390.7 1872" stroke="#000" stroke-width="3.8" fill="none"/>
<path d="M1378.75 1841.3L1402.65 1841.3" stroke="#000" stroke-width="3.8" fill="none"/>
<path d="M1378.75 1872L1402.65 1872" stroke="#000" stroke-width="3.8" fill="none"/>
<path d="M1400.11 1795L1400.11 1827.4" stroke="#000" stroke-width="3.8" fill="none"/>
<path d="M1388.15 1795L1412.06 1795" stroke="#000" stroke-width="3.8" fill="none"/>
<path d="M1388.15 1827.4L1412.06 1827.4" stroke="#000" stroke-width="3.8" fill="none"/>
<path d="M1437.71 1797.5L1437.71 1843.3" stroke="#000" stroke-width="3.8" fill="none"/>
<path d="M1425.76 1797.5L1449.66 1797.5" stroke="#000" stroke-width="3.8" fill="none"/>
<path d="M1425.76 1843.3L1449.66 1843.3" stroke="#000" stroke-width="3.8" fill="none"/>
<path d="M1494.13 1727.3L1494.13 1788.3" stroke="#000" stroke-width="3.8" fill="none"/>
<path d="M1482.18 1727.3L1506.08 1727.3" stroke="#000" stroke-width="3.8" fill="none"/>
<path d="M1482.18 1788.3L1506.08 1788.3" stroke="#000" stroke-width="3.8" fill="none"/>
<path d="M1606.96 1591.7L1606.96 1769.5" stroke="#000" stroke-width="3.8" fill="none"/>
<path d="M1595.01 1591.7L1618.91 1591.7" stroke="#000" stroke-width="3.8" fill="none"/>
<path d="M1595.01 1769.5L1618.91 1769.5" stroke="#000" stroke-width="3.8" fill="none"/>
<path d="M1832.62 1483.2L1832.62 1830.2" stroke="#000" stroke-width="3.8" fill="none"/>
<path d="M1820.67 1483.2L1844.57 1483.2" stroke="#000" stroke-width="3.8" fill="none"/>
<path d="M1820.67 1830.2L1844.57 1830.2" stroke="#000" stroke-width="3.8" fill="none"/>
<path d="M2058.28 1336.4L2058.28 1795.1" stroke="#000" stroke-width="3.8" fill="none"/>
<path d="M2046.33 1336.4L2070.23 1336.4" stroke="#000" stroke-width="3.8" fill="none"/>
<path d="M2046.33 1795.1L2070.23 1795.1" stroke="#000" stroke-width="3.8" fill="none"/>
<path d="M1381.3 1912.7L1390.7 1856.1L1400.11 1811L1437.71 1821L1494.13 1758.4L1606.96 1679.8L1832.62 1655.9L2058.28 1565.7" stroke="#000" stroke-width="3.8" fill="none" stroke-linejoin="round"/>
<rect x="1370.4" y="1901.8" width="21.8" height="21.8" fill="#000" stroke="#000" stroke-width="3.9"/>
<rect x="1379.8" y="1845.2" width="21.8" height="21.8" fill="#000" stroke="#000" stroke-width="3.9"/>
<rect x="1389.2" y="1800.1" width="21.8" height="21.8" fill="#000" stroke="#000" stroke-width="3.9"/>
<rect x="1426.81" y="1810.1" width="21.8" height="21.8" fill="#000" stroke="#000" stroke-width="3.9"/>
<rect x="1483.23" y="1747.5" width="21.8" height="21.8" fill="#000" stroke="#000" stroke-width="3.9"/>
<rect x="1596.06" y="1668.9" width="21.8" height="21.8" fill="#000" stroke="#000" stroke-width="3.9"/>
<rect x="1821.72" y="1645" width="21.8" height="21.8" fill="#000" stroke="#000" stroke-width="3.9"/>
<rect x="2047.38" y="1554.8" width="21.8" height="21.8" fill="#000" stroke="#000" stroke-width="3.9"/>
</g>
<g>
<path d="M1381.3 1913.3L1390.7 1913.3L1400.11 1913.3L1437.71 1913.3L1494.13 1913.3L1606.96 1913.3L1832.62 1913.3L2058.28 1913.3" stroke="#000" stroke-width="3.8" fill="none" stroke-linejoin="round"/>
<rect x="1370.4" y="1902.4" width="21.8" height="21.8" fill="#a0a0a4" stroke="#000" stroke-width="3.9"/>
<rect x="1379.8" y="1902.4" width="21.8" height="21.8" fill="#a0a0a4" stroke="#000" stroke-width="3.9"/>
<rect x="1389.2" y="1902.4" width="21.8" height="21.8" fill="#a0a0a4" stroke="#000" stroke-width="3.9"/>
<rect x="1426.81" y="1902.4" width="21.8" height="21.8" fill="#a0a0a4" stroke="#000" stroke-width="3.9"/>
<rect x="1483.23" y="1902.4" width="21.8" height="21.8" fill="#a0a0a4" stroke="#000" stroke-width="3.9"/>
<rect x="1596.06" y="1902.4" width="21.8" height="21.8" fill="#a0a0a4" stroke="#000" stroke-width="3.9"/>
<rect x="1821.72" y="1902.4" width="21.8" height="21.8" fill="#a0a0a4" stroke="#000" stroke-width="3.9"/>
<rect x="2047.38" y="1902.4" width="21.8" height="21.8" fill="#a0a0a4" stroke="#000" stroke-width="3.9"/>
</g>
<text transform="translate(1494.4 1684.7) scale(0.89 1)" font-size="48.5" text-anchor="middle" fill="#000" stroke="#000" stroke-width="0.8">$</text>
<path d="M344.6 2215.88L344.6 2881.53" stroke="#000" stroke-width="3.85" fill="none"/>
<path d="M328.6 2217.8L344.6 2217.8" stroke="#000" stroke-width="3.85" fill="none"/>
<text transform="translate(322.6 2235.8) scale(1 1)" font-size="56" text-anchor="end" fill="#000" stroke="#000" stroke-width="0.5">120</text>
<path d="M328.6 2328.3L344.6 2328.3" stroke="#000" stroke-width="3.85" fill="none"/>
<text transform="translate(322.6 2346.3) scale(1 1)" font-size="56" text-anchor="end" fill="#000" stroke="#000" stroke-width="0.5">100</text>
<path d="M328.6 2438.4L344.6 2438.4" stroke="#000" stroke-width="3.85" fill="none"/>
<text transform="translate(322.6 2456.4) scale(1 1)" font-size="56" text-anchor="end" fill="#000" stroke="#000" stroke-width="0.5">80</text>
<path d="M328.6 2548.6L344.6 2548.6" stroke="#000" stroke-width="3.85" fill="none"/>
<text transform="translate(322.6 2566.6) scale(1 1)" font-size="56" text-anchor="end" fill="#000" stroke="#000" stroke-width="0.5">60</text>
<path d="M328.6 2658.9L344.6 2658.9" stroke="#000" stroke-width="3.85" fill="none"/>
<text transform="translate(322.6 2676.9) scale(1 1)" font-size="56" text-anchor="end" fill="#000" stroke="#000" stroke-width="0.5">40</text>
<path d="M328.6 2769.2L344.6 2769.2" stroke="#000" stroke-width="3.85" fill="none"/>
<text transform="translate(322.6 2787.2) scale(1 1)" font-size="56" text-anchor="end" fill="#000" stroke="#000" stroke-width="0.5">20</text>
<path d="M328.6 2879.6L344.6 2879.6" stroke="#000" stroke-width="3.85" fill="none"/>
<text transform="translate(322.6 2897.6) scale(1 1)" font-size="56" text-anchor="end" fill="#000" stroke="#000" stroke-width="0.5">0</text>
<path d="M342.68 2879.6L1023.72 2879.6" stroke="#000" stroke-width="3.85" fill="none"/>
<path d="M344.6 2879.6L344.6 2895.1" stroke="#000" stroke-width="3.85" fill="none"/>
<text transform="translate(344.6 2949.8) scale(1 1)" font-size="56" text-anchor="middle" fill="#000" stroke="#000" stroke-width="0.5">0</text>
<path d="M570.33 2879.6L570.33 2895.1" stroke="#000" stroke-width="3.85" fill="none"/>
<text transform="translate(570.33 2949.8) scale(1 1)" font-size="56" text-anchor="middle" fill="#000" stroke="#000" stroke-width="0.5">120</text>
<path d="M796.06 2879.6L796.06 2895.1" stroke="#000" stroke-width="3.85" fill="none"/>
<text transform="translate(796.06 2949.8) scale(1 1)" font-size="56" text-anchor="middle" fill="#000" stroke="#000" stroke-width="0.5">240</text>
<path d="M1021.8 2879.6L1021.8 2895.1" stroke="#000" stroke-width="3.85" fill="none"/>
<text transform="translate(1021.8 2949.8) scale(1 1)" font-size="56" text-anchor="middle" fill="#000" stroke="#000" stroke-width="0.5">360</text>
<text transform="translate(682.6 3025.5) scale(1.035 1)" font-size="54" text-anchor="middle" fill="#000" stroke="#000" stroke-width="0.5">Time (min)</text>
<text transform="translate(202.2 2542.2) scale(1.035 1) rotate(-90)" font-size="54" text-anchor="middle" fill="#000" stroke="#000" stroke-width="0.5">µmol/g prot</text>
<g>
<path d="M570.33 2847L570.33 2865" stroke="#000" stroke-width="3.85" fill="none"/>
<path d="M558.38 2847L582.28 2847" stroke="#000" stroke-width="3.85" fill="none"/>
<path d="M558.38 2865L582.28 2865" stroke="#000" stroke-width="3.85" fill="none"/>
<path d="M796.06 2769.7L796.06 2820.3" stroke="#000" stroke-width="3.85" fill="none"/>
<path d="M784.11 2769.7L808.01 2769.7" stroke="#000" stroke-width="3.85" fill="none"/>
<path d="M1021.8 2802.4L1021.8 2833.1" stroke="#000" stroke-width="3.85" fill="none"/>
<path d="M1009.85 2802.4L1033.75 2802.4" stroke="#000" stroke-width="3.85" fill="none"/>
<path d="M1009.85 2833.1L1033.75 2833.1" stroke="#000" stroke-width="3.85" fill="none"/>
<path d="M344.6 2879L354.01 2878L363.41 2877L401.03 2876L457.47 2870L570.33 2856L796.06 2820.3L1021.8 2816.4" stroke="#000" stroke-width="3.85" fill="none" stroke-linejoin="round"/>
<path d="M333.18 2868.43L356.02 2868.43L344.6 2889.57Z" fill="#fff" stroke="#000" stroke-width="3.9" stroke-linejoin="bevel"/>
<path d="M342.59 2867.43L365.43 2867.43L354.01 2888.57Z" fill="#fff" stroke="#000" stroke-width="3.9" stroke-linejoin="bevel"/>
<path d="M351.99 2866.43L374.83 2866.43L363.41 2887.57Z" fill="#fff" stroke="#000" stroke-width="3.9" stroke-linejoin="bevel"/>
<path d="M389.61 2865.43L412.45 2865.43L401.03 2886.57Z" fill="#fff" stroke="#000" stroke-width="3.9" stroke-linejoin="bevel"/>
<path d="M446.05 2859.43L468.89 2859.43L457.47 2880.57Z" fill="#fff" stroke="#000" stroke-width="3.9" stroke-linejoin="bevel"/>
<path d="M558.91 2845.43L581.75 2845.43L570.33 2866.57Z" fill="#fff" stroke="#000" stroke-width="3.9" stroke-linejoin="bevel"/>
<path d="M784.64 2809.73L807.48 2809.73L796.06 2830.88Z" fill="#fff" stroke="#000" stroke-width="3.9" stroke-linejoin="bevel"/>
<path d="M1010.38 2805.83L1033.22 2805.83L1021.8 2826.97Z" fill="#fff" stroke="#000" stroke-width="3.9" stroke-linejoin="bevel"/>
</g>
<g>
<path d="M570.33 2742.3L570.33 2784.1" stroke="#000" stroke-width="3.85" fill="none"/>
<path d="M558.38 2742.3L582.28 2742.3" stroke="#000" stroke-width="3.85" fill="none"/>
<path d="M558.38 2784.1L582.28 2784.1" stroke="#000" stroke-width="3.85" fill="none"/>
<path d="M796.06 2559.1L796.06 2689.9" stroke="#000" stroke-width="3.85" fill="none"/>
<path d="M784.11 2559.1L808.01 2559.1" stroke="#000" stroke-width="3.85" fill="none"/>
<path d="M784.11 2689.9L808.01 2689.9" stroke="#000" stroke-width="3.85" fill="none"/>
<path d="M1021.8 2323.8L1021.8 2505.3" stroke="#000" stroke-width="3.85" fill="none"/>
<path d="M1009.85 2323.8L1033.75 2323.8" stroke="#000" stroke-width="3.85" fill="none"/>
<path d="M1009.85 2505.3L1033.75 2505.3" stroke="#000" stroke-width="3.85" fill="none"/>
<path d="M344.6 2879L354.01 2878L363.41 2877L401.03 2875L457.47 2852L570.33 2762.2L796.06 2622.9L1021.8 2411.5" stroke="#000" stroke-width="3.85" fill="none" stroke-linejoin="round"/>
<path d="M333.18 2868.43L356.02 2868.43L344.6 2889.57Z" fill="#000" stroke="#000" stroke-width="3.9" stroke-linejoin="bevel"/>
<path d="M342.59 2867.43L365.43 2867.43L354.01 2888.57Z" fill="#000" stroke="#000" stroke-width="3.9" stroke-linejoin="bevel"/>
<path d="M351.99 2866.43L374.83 2866.43L363.41 2887.57Z" fill="#000" stroke="#000" stroke-width="3.9" stroke-linejoin="bevel"/>
<path d="M389.61 2864.43L412.45 2864.43L401.03 2885.57Z" fill="#000" stroke="#000" stroke-width="3.9" stroke-linejoin="bevel"/>
<path d="M446.05 2841.43L468.89 2841.43L457.47 2862.57Z" fill="#000" stroke="#000" stroke-width="3.9" stroke-linejoin="bevel"/>
<path d="M558.91 2751.62L581.75 2751.62L570.33 2772.77Z" fill="#000" stroke="#000" stroke-width="3.9" stroke-linejoin="bevel"/>
<path d="M784.64 2612.33L807.48 2612.33L796.06 2633.47Z" fill="#000" stroke="#000" stroke-width="3.9" stroke-linejoin="bevel"/>
<path d="M1010.38 2400.93L1033.22 2400.93L1021.8 2422.07Z" fill="#000" stroke="#000" stroke-width="3.9" stroke-linejoin="bevel"/>
</g>
<g>
<path d="M796.06 2856.2L796.06 2873" stroke="#000" stroke-width="3.85" fill="none"/>
<path d="M784.11 2873L808.01 2873" stroke="#000" stroke-width="3.85" fill="none"/>
<path d="M344.6 2878L354.01 2878L363.41 2877L401.03 2874L457.47 2871.1L570.33 2862.7L796.06 2856.2L1021.8 2853.4" stroke="#000" stroke-width="3.85" fill="none" stroke-linejoin="round"/>
<rect x="333.7" y="2867.1" width="21.8" height="21.8" fill="#a0a0a4" stroke="#000" stroke-width="3.9"/>
<rect x="343.11" y="2867.1" width="21.8" height="21.8" fill="#a0a0a4" stroke="#000" stroke-width="3.9"/>
<rect x="352.51" y="2866.1" width="21.8" height="21.8" fill="#a0a0a4" stroke="#000" stroke-width="3.9"/>
<rect x="390.13" y="2863.1" width="21.8" height="21.8" fill="#a0a0a4" stroke="#000" stroke-width="3.9"/>
<rect x="446.57" y="2860.2" width="21.8" height="21.8" fill="#a0a0a4" stroke="#000" stroke-width="3.9"/>
<rect x="559.43" y="2851.8" width="21.8" height="21.8" fill="#a0a0a4" stroke="#000" stroke-width="3.9"/>
<rect x="785.16" y="2845.3" width="21.8" height="21.8" fill="#a0a0a4" stroke="#000" stroke-width="3.9"/>
<rect x="1010.9" y="2842.5" width="21.8" height="21.8" fill="#a0a0a4" stroke="#000" stroke-width="3.9"/>
</g>
<path d="M363.4 2215.8L425.2 2215.8" stroke="#000" stroke-width="3.85" fill="none"/>
<path d="M382.68 2205.23L405.52 2205.23L394.1 2226.38Z" fill="#fff" stroke="#000" stroke-width="3.9" stroke-linejoin="bevel"/>
<text transform="translate(461 2229.8) scale(1.035 1)" font-size="45" text-anchor="start" fill="#000" stroke="#000" stroke-width="0.5">ibHB C0</text>
<path d="M363.4 2291.6L425.2 2291.6" stroke="#000" stroke-width="3.85" fill="none"/>
<path d="M382.68 2281.03L405.52 2281.03L394.1 2302.17Z" fill="#000" stroke="#000" stroke-width="3.9" stroke-linejoin="bevel"/>
<text transform="translate(461 2305.5) scale(1.035 1)" font-size="45" text-anchor="start" fill="#000" stroke="#000" stroke-width="0.5">ibHB C4</text>
<path d="M363.4 2357.4L425.2 2357.4" stroke="#000" stroke-width="3.85" fill="none"/>
<rect x="383.2" y="2346.5" width="21.8" height="21.8" fill="#a0a0a4" stroke="#000" stroke-width="3.9"/>
<text transform="translate(459 2369.4) scale(1.035 1)" font-size="45" text-anchor="start" fill="#000" stroke="#000" stroke-width="0.5">PBS</text>
<path d="M1378.4 2215.8L1378.4 2880.9" stroke="#000" stroke-width="3.1" fill="none"/>
<path d="M1362.4 2217.8L1378.4 2217.8" stroke="#000" stroke-width="4" fill="none"/>
<text transform="translate(1355.4 2235.8) scale(1 1)" font-size="56" text-anchor="end" fill="#000" stroke="#000" stroke-width="0.5">0.10</text>
<path d="M1362.4 2350.4L1378.4 2350.4" stroke="#000" stroke-width="4" fill="none"/>
<text transform="translate(1355.4 2368.4) scale(1 1)" font-size="56" text-anchor="end" fill="#000" stroke="#000" stroke-width="0.5">0.08</text>
<path d="M1362.4 2482.4L1378.4 2482.4" stroke="#000" stroke-width="4" fill="none"/>
<text transform="translate(1355.4 2500.4) scale(1 1)" font-size="56" text-anchor="end" fill="#000" stroke="#000" stroke-width="0.5">0.06</text>
<path d="M1362.4 2614.6L1378.4 2614.6" stroke="#000" stroke-width="4" fill="none"/>
<text transform="translate(1355.4 2632.6) scale(1 1)" font-size="56" text-anchor="end" fill="#000" stroke="#000" stroke-width="0.5">0.04</text>
<path d="M1362.4 2746.9L1378.4 2746.9" stroke="#000" stroke-width="4" fill="none"/>
<text transform="translate(1355.4 2764.9) scale(1 1)" font-size="56" text-anchor="end" fill="#000" stroke="#000" stroke-width="0.5">0.02</text>
<path d="M1362.4 2879L1378.4 2879" stroke="#000" stroke-width="4" fill="none"/>
<text transform="translate(1355.4 2897) scale(1 1)" font-size="56" text-anchor="end" fill="#000" stroke="#000" stroke-width="0.5">0.00</text>
<path d="M1376.85 2879L2057.4 2879" stroke="#000" stroke-width="3.8" fill="none"/>
<path d="M1378.4 2879L1378.4 2894.5" stroke="#000" stroke-width="3.8" fill="none"/>
<text transform="translate(1378.4 2949.7) scale(1 1)" font-size="56" text-anchor="middle" fill="#000" stroke="#000" stroke-width="0.5">0</text>
<path d="M1604.06 2879L1604.06 2894.5" stroke="#000" stroke-width="3.8" fill="none"/>
<text transform="translate(1604.06 2949.7) scale(1 1)" font-size="56" text-anchor="middle" fill="#000" stroke="#000" stroke-width="0.5">120</text>
<path d="M1829.72 2879L1829.72 2894.5" stroke="#000" stroke-width="3.8" fill="none"/>
<text transform="translate(1829.72 2949.7) scale(1 1)" font-size="56" text-anchor="middle" fill="#000" stroke="#000" stroke-width="0.5">240</text>
<path d="M2055.38 2879L2055.38 2894.5" stroke="#000" stroke-width="3.8" fill="none"/>
<text transform="translate(2055.38 2949.7) scale(1 1)" font-size="56" text-anchor="middle" fill="#000" stroke="#000" stroke-width="0.5">360</text>
<text transform="translate(1718 3025.4) scale(1.035 1)" font-size="54" text-anchor="middle" fill="#000" stroke="#000" stroke-width="0.5">Time (min)</text>
<text transform="translate(1219.8 2541.3) scale(1.035 1) rotate(-90)" font-size="54" text-anchor="middle" fill="#000" stroke="#000" stroke-width="0.5">µmol/g prot</text>
<g>
<path d="M1378.4 2694.8L1378.4 2828.6" stroke="#000" stroke-width="3.8" fill="none"/>
<path d="M1366.45 2694.8L1390.35 2694.8" stroke="#000" stroke-width="3.8" fill="none"/>
<path d="M1366.45 2828.6L1390.35 2828.6" stroke="#000" stroke-width="3.8" fill="none"/>
<path d="M1397.21 2720.9L1397.21 2808" stroke="#000" stroke-width="3.8" fill="none"/>
<path d="M1385.26 2720.9L1409.16 2720.9" stroke="#000" stroke-width="3.8" fill="none"/>
<path d="M1385.26 2808L1409.16 2808" stroke="#000" stroke-width="3.8" fill="none"/>
<path d="M1434.82 2804.7L1434.82 2856" stroke="#000" stroke-width="3.8" fill="none"/>
<path d="M1422.87 2804.7L1446.77 2804.7" stroke="#000" stroke-width="3.8" fill="none"/>
<path d="M1422.87 2856L1446.77 2856" stroke="#000" stroke-width="3.8" fill="none"/>
<path d="M1491.23 2805.3L1491.23 2844.3" stroke="#000" stroke-width="3.8" fill="none"/>
<path d="M1479.28 2805.3L1503.18 2805.3" stroke="#000" stroke-width="3.8" fill="none"/>
<path d="M1604.06 2760.7L1604.06 2842.5" stroke="#000" stroke-width="3.8" fill="none"/>
<path d="M1592.11 2760.7L1616.01 2760.7" stroke="#000" stroke-width="3.8" fill="none"/>
<path d="M1592.11 2842.5L1616.01 2842.5" stroke="#000" stroke-width="3.8" fill="none"/>
<path d="M1829.72 2700.4L1829.72 2857.9" stroke="#000" stroke-width="3.8" fill="none"/>
<path d="M1817.77 2700.4L1841.67 2700.4" stroke="#000" stroke-width="3.8" fill="none"/>
<path d="M1817.77 2857.9L1841.67 2857.9" stroke="#000" stroke-width="3.8" fill="none"/>
<path d="M2055.38 2732.3L2055.38 2799.3" stroke="#000" stroke-width="3.8" fill="none"/>
<path d="M2043.43 2732.3L2067.33 2732.3" stroke="#000" stroke-width="3.8" fill="none"/>
<path d="M2043.43 2799.3L2067.33 2799.3" stroke="#000" stroke-width="3.8" fill="none"/>
<path d="M1378.4 2761.6L1387.8 2790L1397.21 2763.8L1434.82 2830.3L1491.23 2844.3L1604.06 2801.6L1829.72 2778.2L2055.38 2766.2" stroke="#000" stroke-width="3.8" fill="none" stroke-linejoin="round"/>
<path d="M1366.98 2751.03L1389.82 2751.03L1378.4 2772.17Z" fill="#fff" stroke="#000" stroke-width="3.9" stroke-linejoin="bevel"/>
<path d="M1376.38 2779.43L1399.22 2779.43L1387.8 2800.57Z" fill="#fff" stroke="#000" stroke-width="3.9" stroke-linejoin="bevel"/>
<path d="M1385.79 2753.23L1408.63 2753.23L1397.21 2774.38Z" fill="#fff" stroke="#000" stroke-width="3.9" stroke-linejoin="bevel"/>
<path d="M1423.39 2819.73L1446.24 2819.73L1434.82 2840.88Z" fill="#fff" stroke="#000" stroke-width="3.9" stroke-linejoin="bevel"/>
<path d="M1479.81 2833.73L1502.65 2833.73L1491.23 2854.88Z" fill="#fff" stroke="#000" stroke-width="3.9" stroke-linejoin="bevel"/>
<path d="M1592.64 2791.03L1615.48 2791.03L1604.06 2812.17Z" fill="#fff" stroke="#000" stroke-width="3.9" stroke-linejoin="bevel"/>
<path d="M1818.3 2767.62L1841.14 2767.62L1829.72 2788.77Z" fill="#fff" stroke="#000" stroke-width="3.9" stroke-linejoin="bevel"/>
<path d="M2043.96 2755.62L2066.8 2755.62L2055.38 2776.77Z" fill="#fff" stroke="#000" stroke-width="3.9" stroke-linejoin="bevel"/>
</g>
<g>
<path d="M1387.8 2841.7L1387.8 2870" stroke="#000" stroke-width="3.8" fill="none"/>
<path d="M1375.85 2841.7L1399.75 2841.7" stroke="#000" stroke-width="3.8" fill="none"/>
<path d="M1375.85 2870L1399.75 2870" stroke="#000" stroke-width="3.8" fill="none"/>
<path d="M1397.21 2804.7L1397.21 2835" stroke="#000" stroke-width="3.8" fill="none"/>
<path d="M1385.26 2804.7L1409.16 2804.7" stroke="#000" stroke-width="3.8" fill="none"/>
<path d="M1385.26 2835L1409.16 2835" stroke="#000" stroke-width="3.8" fill="none"/>
<path d="M1434.82 2744.2L1434.82 2812.3" stroke="#000" stroke-width="3.8" fill="none"/>
<path d="M1422.87 2744.2L1446.77 2744.2" stroke="#000" stroke-width="3.8" fill="none"/>
<path d="M1422.87 2812.3L1446.77 2812.3" stroke="#000" stroke-width="3.8" fill="none"/>
<path d="M1491.23 2694.8L1491.23 2745.9" stroke="#000" stroke-width="3.8" fill="none"/>
<path d="M1479.28 2694.8L1503.18 2694.8" stroke="#000" stroke-width="3.8" fill="none"/>
<path d="M1479.28 2745.9L1503.18 2745.9" stroke="#000" stroke-width="3.8" fill="none"/>
<path d="M1604.06 2563.6L1604.06 2740" stroke="#000" stroke-width="3.8" fill="none"/>
<path d="M1592.11 2563.6L1616.01 2563.6" stroke="#000" stroke-width="3.8" fill="none"/>
<path d="M1592.11 2740L1616.01 2740" stroke="#000" stroke-width="3.8" fill="none"/>
<path d="M1829.72 2509.7L1829.72 2770" stroke="#000" stroke-width="3.8" fill="none"/>
<path d="M1817.77 2509.7L1841.67 2509.7" stroke="#000" stroke-width="3.8" fill="none"/>
<path d="M1817.77 2770L1841.67 2770" stroke="#000" stroke-width="3.8" fill="none"/>
<path d="M2055.38 2356.2L2055.38 2611.5" stroke="#000" stroke-width="3.8" fill="none"/>
<path d="M2043.43 2356.2L2067.33 2356.2" stroke="#000" stroke-width="3.8" fill="none"/>
<path d="M2043.43 2611.5L2067.33 2611.5" stroke="#000" stroke-width="3.8" fill="none"/>
<path d="M1378.4 2878.6L1387.8 2855.8L1397.21 2819.9L1434.82 2778.1L1491.23 2720L1604.06 2646.6L1829.72 2639.8L2055.38 2481.8" stroke="#000" stroke-width="3.8" fill="none" stroke-linejoin="round"/>
<path d="M1366.98 2868.03L1389.82 2868.03L1378.4 2889.17Z" fill="#000" stroke="#000" stroke-width="3.9" stroke-linejoin="bevel"/>
<path d="M1376.38 2845.23L1399.22 2845.23L1387.8 2866.38Z" fill="#000" stroke="#000" stroke-width="3.9" stroke-linejoin="bevel"/>
<path d="M1385.79 2809.33L1408.63 2809.33L1397.21 2830.47Z" fill="#000" stroke="#000" stroke-width="3.9" stroke-linejoin="bevel"/>
<path d="M1423.39 2767.53L1446.24 2767.53L1434.82 2788.67Z" fill="#000" stroke="#000" stroke-width="3.9" stroke-linejoin="bevel"/>
<path d="M1479.81 2709.43L1502.65 2709.43L1491.23 2730.57Z" fill="#000" stroke="#000" stroke-width="3.9" stroke-linejoin="bevel"/>
<path d="M1592.64 2636.03L1615.48 2636.03L1604.06 2657.17Z" fill="#000" stroke="#000" stroke-width="3.9" stroke-linejoin="bevel"/>
<path d="M1818.3 2629.23L1841.14 2629.23L1829.72 2650.38Z" fill="#000" stroke="#000" stroke-width="3.9" stroke-linejoin="bevel"/>
<path d="M2043.96 2471.23L2066.8 2471.23L2055.38 2492.38Z" fill="#000" stroke="#000" stroke-width="3.9" stroke-linejoin="bevel"/>
</g>
<g>
<path d="M1378.4 2696L1378.4 2747" stroke="#000" stroke-width="3.8" fill="none"/>
<path d="M1366.45 2696L1390.35 2696" stroke="#000" stroke-width="3.8" fill="none"/>
<path d="M1366.45 2747L1390.35 2747" stroke="#000" stroke-width="3.8" fill="none"/>
<path d="M1387.8 2711.6L1387.8 2878" stroke="#000" stroke-width="3.8" fill="none"/>
<path d="M1375.85 2711.6L1399.75 2711.6" stroke="#000" stroke-width="3.8" fill="none"/>
<path d="M1375.85 2878L1399.75 2878" stroke="#000" stroke-width="3.8" fill="none"/>
<path d="M1397.21 2834.7L1397.21 2874.7" stroke="#000" stroke-width="3.8" fill="none"/>
<path d="M1385.26 2834.7L1409.16 2834.7" stroke="#000" stroke-width="3.8" fill="none"/>
<path d="M1385.26 2874.7L1409.16 2874.7" stroke="#000" stroke-width="3.8" fill="none"/>
<path d="M1434.82 2836.6L1434.82 2858.4" stroke="#000" stroke-width="3.8" fill="none"/>
<path d="M1422.87 2836.6L1446.77 2836.6" stroke="#000" stroke-width="3.8" fill="none"/>
<path d="M1422.87 2858.4L1446.77 2858.4" stroke="#000" stroke-width="3.8" fill="none"/>
<path d="M1604.06 2830.8L1604.06 2844.3" stroke="#000" stroke-width="3.8" fill="none"/>
<path d="M1592.11 2844.3L1616.01 2844.3" stroke="#000" stroke-width="3.8" fill="none"/>
<path d="M1378.4 2722.4L1387.8 2794.9L1397.21 2854.7L1434.82 2847.5L1491.23 2869.9L1604.06 2830.8L1829.72 2758.2L2055.38 2842.8" stroke="#000" stroke-width="3.8" fill="none" stroke-linejoin="round"/>
<path d="M1366.98 2711.83L1389.82 2711.83L1378.4 2732.97Z" fill="#a0a0a4" stroke="#000" stroke-width="3.9" stroke-linejoin="bevel"/>
<path d="M1376.38 2784.33L1399.22 2784.33L1387.8 2805.47Z" fill="#a0a0a4" stroke="#000" stroke-width="3.9" stroke-linejoin="bevel"/>
<path d="M1385.79 2844.12L1408.63 2844.12L1397.21 2865.27Z" fill="#a0a0a4" stroke="#000" stroke-width="3.9" stroke-linejoin="bevel"/>
<path d="M1423.39 2836.93L1446.24 2836.93L1434.82 2858.07Z" fill="#a0a0a4" stroke="#000" stroke-width="3.9" stroke-linejoin="bevel"/>
<path d="M1479.81 2859.33L1502.65 2859.33L1491.23 2880.47Z" fill="#a0a0a4" stroke="#000" stroke-width="3.9" stroke-linejoin="bevel"/>
<path d="M1592.64 2820.23L1615.48 2820.23L1604.06 2841.38Z" fill="#a0a0a4" stroke="#000" stroke-width="3.9" stroke-linejoin="bevel"/>
<path d="M1818.3 2747.62L1841.14 2747.62L1829.72 2768.77Z" fill="#a0a0a4" stroke="#000" stroke-width="3.9" stroke-linejoin="bevel"/>
<path d="M2043.96 2832.23L2066.8 2832.23L2055.38 2853.38Z" fill="#a0a0a4" stroke="#000" stroke-width="3.9" stroke-linejoin="bevel"/>
</g>
<text transform="translate(1491.8 2661) scale(0.9 1)" font-size="48" text-anchor="middle" fill="#000" stroke="#000" stroke-width="0.8">$$</text>
<text transform="translate(2056.4 2327.5) scale(1.035 1)" font-size="45" text-anchor="middle" fill="#000" stroke="#000" stroke-width="0.5">##</text>
<path d="M399.5 3228.72L399.5 3932.6" stroke="#000" stroke-width="3.75" fill="none"/>
<path d="M382 3230.6L399.5 3230.6" stroke="#000" stroke-width="3.75" fill="none"/>
<text transform="translate(376 3250.1) scale(1 1)" font-size="58.7" text-anchor="end" fill="#000" stroke="#000" stroke-width="0.5">18000</text>
<path d="M382 3347.3L399.5 3347.3" stroke="#000" stroke-width="3.75" fill="none"/>
<text transform="translate(376 3366.8) scale(1 1)" font-size="58.7" text-anchor="end" fill="#000" stroke="#000" stroke-width="0.5">15000</text>
<path d="M382 3464L399.5 3464" stroke="#000" stroke-width="3.75" fill="none"/>
<text transform="translate(376 3483.5) scale(1 1)" font-size="58.7" text-anchor="end" fill="#000" stroke="#000" stroke-width="0.5">12000</text>
<path d="M382 3580.7L399.5 3580.7" stroke="#000" stroke-width="3.75" fill="none"/>
<text transform="translate(376 3600.2) scale(1 1)" font-size="58.7" text-anchor="end" fill="#000" stroke="#000" stroke-width="0.5">9000</text>
<path d="M382 3697.3L399.5 3697.3" stroke="#000" stroke-width="3.75" fill="none"/>
<text transform="translate(376 3716.8) scale(1 1)" font-size="58.7" text-anchor="end" fill="#000" stroke="#000" stroke-width="0.5">6000</text>
<path d="M382 3814L399.5 3814" stroke="#000" stroke-width="3.75" fill="none"/>
<text transform="translate(376 3833.5) scale(1 1)" font-size="58.7" text-anchor="end" fill="#000" stroke="#000" stroke-width="0.5">3000</text>
<path d="M382 3930.7L399.5 3930.7" stroke="#000" stroke-width="3.75" fill="none"/>
<text transform="translate(376 3950.2) scale(1 1)" font-size="58.7" text-anchor="end" fill="#000" stroke="#000" stroke-width="0.5">0</text>
<path d="M397.62 3930.7L1122.28 3930.7" stroke="#000" stroke-width="3.8" fill="none"/>
<path d="M543 3930.7L543 3945.4" stroke="#000" stroke-width="3.75" fill="none"/>
<text transform="translate(543 4001.7) scale(1 1)" font-size="58.7" text-anchor="middle" fill="#000" stroke="#000" stroke-width="0.5">C0</text>
<path d="M758 3930.7L758 3945.4" stroke="#000" stroke-width="3.75" fill="none"/>
<text transform="translate(758 4001.7) scale(1 1)" font-size="58.7" text-anchor="middle" fill="#000" stroke="#000" stroke-width="0.5">C4</text>
<path d="M973.6 3930.7L973.6 3945.4" stroke="#000" stroke-width="3.75" fill="none"/>
<text transform="translate(973.6 4001.7) scale(1 1)" font-size="58.7" text-anchor="middle" fill="#000" stroke="#000" stroke-width="0.5">C0+C4</text>
<text transform="translate(176.5 3573) scale(1.13 1) rotate(-90)" font-size="57.1" text-anchor="middle" fill="#000" stroke="#000" stroke-width="0.5">AUC</text>
<text transform="translate(412.5 3269.8) scale(1.08 1)" font-size="46" text-anchor="start" fill="#000" stroke="#000" stroke-width="0.5" font-weight="bold">ibHB</text>
<path d="M473 3930.7L473 3834.6L614.5 3834.6L614.5 3930.7" stroke="#000" stroke-width="3.75" fill="none" stroke-linejoin="miter"/>
<path d="M543.8 3801.5L543.8 3867" stroke="#000" stroke-width="3.75" fill="none"/>
<path d="M508.1 3801.5L579.5 3801.5" stroke="#000" stroke-width="3.75" fill="none"/>
<path d="M508.1 3867L579.5 3867" stroke="#000" stroke-width="3.75" fill="none"/>
<path d="M689.2 3930.7L689.2 3436.5L829.2 3436.5L829.2 3930.7" stroke="#000" stroke-width="3.75" fill="none" stroke-linejoin="miter"/>
<path d="M758.8 3379L758.8 3490.7" stroke="#000" stroke-width="3.75" fill="none"/>
<path d="M723.1 3379L794.5 3379" stroke="#000" stroke-width="3.75" fill="none"/>
<path d="M723.1 3490.7L794.5 3490.7" stroke="#000" stroke-width="3.75" fill="none"/>
<path d="M905 3930.7L905 3340.8L1045.7 3340.8L1045.7 3930.7" stroke="#000" stroke-width="3.75" fill="none" stroke-linejoin="miter"/>
<path d="M975.1 3275.3L975.1 3402.6" stroke="#000" stroke-width="3.75" fill="none"/>
<path d="M939.4 3275.3L1010.8 3275.3" stroke="#000" stroke-width="3.75" fill="none"/>
<path d="M939.4 3402.6L1010.8 3402.6" stroke="#000" stroke-width="3.75" fill="none"/>
<path d="M542.9 3304.5L542.9 3190L980.3 3190L980.3 3230" stroke="#000" stroke-width="3.75" fill="none" stroke-linejoin="miter"/>
<path d="M759.7 3335.2L759.7 3252.7L980.3 3252.7L980.3 3263" stroke="#000" stroke-width="3.75" fill="none" stroke-linejoin="miter"/>
<path d="M545.7 3780L545.7 3344.6L758.8 3344.6L758.8 3370.5" stroke="#000" stroke-width="3.75" fill="none" stroke-linejoin="miter"/>
<text transform="translate(760.2 3193) scale(1.035 1)" font-size="45" text-anchor="middle" fill="#000" stroke="#000" stroke-width="0.5">****</text>
<text transform="translate(877 3258) scale(1.035 1)" font-size="45" text-anchor="middle" fill="#000" stroke="#000" stroke-width="0.5">*</text>
<text transform="translate(650.8 3345) scale(1.035 1)" font-size="45" text-anchor="middle" fill="#000" stroke="#000" stroke-width="0.5">****</text>
<path d="M1409.7 3237.82L1409.7 3940.6" stroke="#000" stroke-width="3.75" fill="none"/>
<path d="M1393.1 3239.7L1409.7 3239.7" stroke="#000" stroke-width="3.75" fill="none"/>
<text transform="translate(1387.1 3259.2) scale(1 1)" font-size="58.7" text-anchor="end" fill="#000" stroke="#000" stroke-width="0.5">14000</text>
<path d="M1393.1 3339.6L1409.7 3339.6" stroke="#000" stroke-width="3.75" fill="none"/>
<text transform="translate(1387.1 3359.1) scale(1 1)" font-size="58.7" text-anchor="end" fill="#000" stroke="#000" stroke-width="0.5">12000</text>
<path d="M1393.1 3439.4L1409.7 3439.4" stroke="#000" stroke-width="3.75" fill="none"/>
<text transform="translate(1387.1 3458.9) scale(1 1)" font-size="58.7" text-anchor="end" fill="#000" stroke="#000" stroke-width="0.5">10000</text>
<path d="M1393.1 3539.3L1409.7 3539.3" stroke="#000" stroke-width="3.75" fill="none"/>
<text transform="translate(1387.1 3558.8) scale(1 1)" font-size="58.7" text-anchor="end" fill="#000" stroke="#000" stroke-width="0.5">8000</text>
<path d="M1393.1 3639.1L1409.7 3639.1" stroke="#000" stroke-width="3.75" fill="none"/>
<text transform="translate(1387.1 3658.6) scale(1 1)" font-size="58.7" text-anchor="end" fill="#000" stroke="#000" stroke-width="0.5">6000</text>
<path d="M1393.1 3739L1409.7 3739" stroke="#000" stroke-width="3.75" fill="none"/>
<text transform="translate(1387.1 3758.5) scale(1 1)" font-size="58.7" text-anchor="end" fill="#000" stroke="#000" stroke-width="0.5">4000</text>
<path d="M1393.1 3838.8L1409.7 3838.8" stroke="#000" stroke-width="3.75" fill="none"/>
<text transform="translate(1387.1 3858.3) scale(1 1)" font-size="58.7" text-anchor="end" fill="#000" stroke="#000" stroke-width="0.5">2000</text>
<path d="M1393.1 3938.7L1409.7 3938.7" stroke="#000" stroke-width="3.75" fill="none"/>
<text transform="translate(1387.1 3958.2) scale(1 1)" font-size="58.7" text-anchor="end" fill="#000" stroke="#000" stroke-width="0.5">0</text>
<path d="M1407.83 3938.7L2133.07 3938.7" stroke="#000" stroke-width="3.8" fill="none"/>
<path d="M1553.6 3938.7L1553.6 3954.2" stroke="#000" stroke-width="3.75" fill="none"/>
<text transform="translate(1553.6 4012) scale(1 1)" font-size="58.7" text-anchor="middle" fill="#000" stroke="#000" stroke-width="0.5">C0</text>
<path d="M1769.1 3938.7L1769.1 3954.2" stroke="#000" stroke-width="3.75" fill="none"/>
<text transform="translate(1769.1 4012) scale(1 1)" font-size="58.7" text-anchor="middle" fill="#000" stroke="#000" stroke-width="0.5">C5</text>
<path d="M1984.6 3938.7L1984.6 3954.2" stroke="#000" stroke-width="3.75" fill="none"/>
<text transform="translate(1984.6 4012) scale(1 1)" font-size="58.7" text-anchor="middle" fill="#000" stroke="#000" stroke-width="0.5">C0+C5</text>
<text transform="translate(1186 3581.7) scale(1.13 1) rotate(-90)" font-size="57.1" text-anchor="middle" fill="#000" stroke="#000" stroke-width="0.5">AUC</text>
<text transform="translate(1425.5 3278.8) scale(1.085 1)" font-size="46.5" text-anchor="start" fill="#000" stroke="#000" stroke-width="0.5" font-weight="bold">2-KIV</text>
<path d="M1482.8 3938.7L1482.8 3865.5L1624 3865.5L1624 3938.7" stroke="#000" stroke-width="3.75" fill="none" stroke-linejoin="miter"/>
<path d="M1554.2 3838.7L1554.2 3888.1" stroke="#000" stroke-width="3.75" fill="none"/>
<path d="M1518.5 3838.7L1589.9 3838.7" stroke="#000" stroke-width="3.75" fill="none"/>
<path d="M1518.5 3888.1L1589.9 3888.1" stroke="#000" stroke-width="3.75" fill="none"/>
<path d="M1700 3938.7L1700 3421L1839.8 3421L1839.8 3938.7" stroke="#000" stroke-width="3.75" fill="none" stroke-linejoin="miter"/>
<path d="M1770.5 3364.6L1770.5 3474.6" stroke="#000" stroke-width="3.75" fill="none"/>
<path d="M1734.8 3364.6L1806.2 3364.6" stroke="#000" stroke-width="3.75" fill="none"/>
<path d="M1734.8 3474.6L1806.2 3474.6" stroke="#000" stroke-width="3.75" fill="none"/>
<path d="M1914.5 3938.7L1914.5 3346.1L2056.2 3346.1L2056.2 3938.7" stroke="#000" stroke-width="3.75" fill="none" stroke-linejoin="miter"/>
<path d="M1985.6 3284.3L1985.6 3405" stroke="#000" stroke-width="3.75" fill="none"/>
<path d="M1949.9 3284.3L2021.3 3284.3" stroke="#000" stroke-width="3.75" fill="none"/>
<path d="M1949.9 3405L2021.3 3405" stroke="#000" stroke-width="3.75" fill="none"/>
<path d="M1556 3276.5L1556 3219.1L1988.1 3219.1L1988.1 3276.5" stroke="#000" stroke-width="3.75" fill="none" stroke-linejoin="miter"/>
<path d="M1772.5 3340.7L1772.5 3254.6L1988.1 3254.6L1988.1 3262" stroke="#000" stroke-width="3.75" fill="none" stroke-linejoin="miter"/>
<path d="M1555 3812.5L1555 3315.4L1771.5 3315.4L1771.5 3340.7" stroke="#000" stroke-width="3.75" fill="none" stroke-linejoin="miter"/>
<text transform="translate(1773.5 3219) scale(1.035 1)" font-size="45" text-anchor="middle" fill="#000" stroke="#000" stroke-width="0.5">****</text>
<text transform="translate(1889.3 3269) scale(1.035 1)" font-size="45" text-anchor="middle" fill="#000" stroke="#000" stroke-width="0.5">*</text>
<text transform="translate(1670.3 3319) scale(1.035 1)" font-size="45" text-anchor="middle" fill="#000" stroke="#000" stroke-width="0.5">****</text>
</svg>
</body></html>
